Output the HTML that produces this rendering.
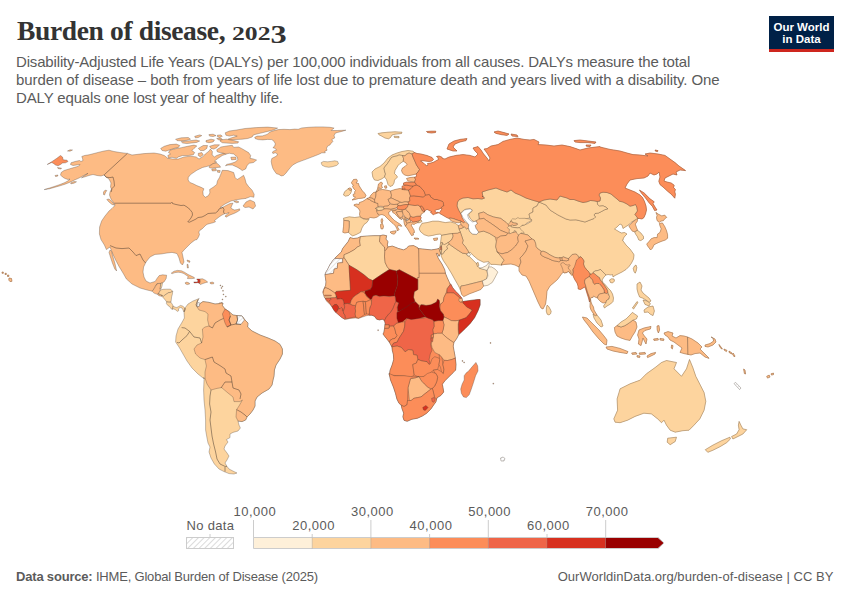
<!DOCTYPE html>
<html><head><meta charset="utf-8"><title>Burden of disease, 2023</title>
<style>
html,body{margin:0;padding:0;background:#fff;}
body{width:850px;height:600px;position:relative;overflow:hidden;font-family:"Liberation Sans",sans-serif;}
.t{position:absolute;white-space:nowrap;line-height:1;}
#title{left:17px;top:17.4px;font-family:"Liberation Serif",serif;font-weight:bold;font-size:27.5px;color:#333;letter-spacing:-0.36px;}
#yr{left:232px;top:23.9px;font-family:"Liberation Serif",serif;font-weight:bold;font-size:19.4px;color:#333;transform:scaleX(1.325);transform-origin:0 0;}
.sub{left:16px;font-size:15px;color:#5b5b5b;}
#logo{position:absolute;left:769px;top:16px;width:65px;height:33px;background:#002147;border-bottom:3px solid #ce261e;color:#fff;font-weight:bold;font-size:11.5px;text-align:center;line-height:12px;}
#logo span{display:block;}
#map{position:absolute;left:0;top:0;width:850px;height:600px;}
.lg{font-size:12.5px;color:#5b5b5b;}
.ft{font-size:13px;color:#5b5b5b;top:570px;}
</style></head><body>
<div id="title" class="t">Burden of disease,</div>
<div id="yr" class="t">202<span style="position:relative;top:3.5px;font-size:1.26em;line-height:0">3</span></div>
<div class="t sub" style="top:54px;letter-spacing:-0.16px">Disability-Adjusted Life Years (DALYs) per 100,000 individuals from all causes. DALYs measure the total</div>
<div class="t sub" style="top:72px;letter-spacing:-0.09px">burden of disease – both from years of life lost due to premature death and years lived with a disability. One</div>
<div class="t sub" style="top:90px;letter-spacing:-0.145px">DALY equals one lost year of healthy life.</div>
<div id="logo"><span style="padding-top:5px">Our World</span><span>in Data</span></div>
<svg id="map" viewBox="0 0 850 600">
<defs>
<pattern id="hatch" width="4" height="4" patternUnits="userSpaceOnUse" patternTransform="rotate(45)"><rect width="4" height="4" fill="#fff"/><line x1="0" y1="0" x2="0" y2="4" stroke="#ccc" stroke-width="1.4"/></pattern>
<pattern id="hatch2" width="3" height="3" patternUnits="userSpaceOnUse" patternTransform="rotate(45)"><rect width="3" height="3" fill="#fff"/><line x1="0" y1="0" x2="0" y2="3" stroke="#d8d8d8" stroke-width="1.2"/></pattern>
</defs>
<g id="countries" stroke="#46392f" stroke-width="0.32" stroke-linejoin="round">
<!--MAP-->
<path d="M127.4 153.4L120 152.5L114 151.5L109 150.2L104 151L99 152.2L94 153.5L89 154.8L84.5 155.5L81.8 156.5L82.5 158.5L83 160.5L81 161.5L79.5 160.5L75 161.5L71 162.8L70.5 164.5L73 165.5L76.5 165L80 164.5L78.5 166.2L74 167.5L69 169L64 170.5L61.2 172.5L60.5 175L62.5 177L65 178.5L68 179.5L70 179L68.5 180.5L65 182.5L60 184.5L55 186.2L49.5 188L44.2 189.6L49.5 188.8L55 187.2L60 185.8L65 184.2L70 182.2L74 180.2L78 178.5L81 177L84 175.3L88 173.3L84 176L81.5 177.8L85 176.8L89 175.5L93 174.5L97 175.5L101 176L104 175L106 177L109 179L111 183L110.5 187L111.5 189L110 192L109.5 195L110.5 198L112 200.5L114 203L115 205L114.4 206L112 208.4L109 211L105 216L101.6 221L99.6 227L99.4 234L101 239.6L104.4 245L106.4 249.6L110 247L112.4 253L115.6 260L119 266.4L123 273L126.4 279L132 284L140 288L147 290L152.2 291.2L154.8 287.8L155.8 285.2L156.8 285L157.2 283.6L160.8 283.4L162.4 282.8L164 282L166.2 278.4L166.6 275.2L162.6 274.8L159.2 275.6L157 278.4L155.2 281.4L150 283L146 281L144 277L143 272L143.6 267L146 262L150 257L155 254.4L161 254L167 253L172 252.4L177 253.6L179 258L180.4 263L182.4 265L184 262L183 257L182 252.4L184 250L187 247L191 243L195 240L197 239.5L198.5 237L199.5 234.5L198.8 232L200 230.2L202 229L204 227L206 225L207.5 224.2L210 223.5L213 222.8L215.5 221.8L214.5 220.5L216.5 219L219 217L222 215L224.5 213.8L226.5 213.5L229 212.5L227.2 214.5L225 216L226 217.2L230 215L234 213.5L237 212L239.8 210.2L239.5 208.8L237.5 209.5L234.5 210L232 209L231 207.5L232 205L233 203.2L230 203.5L226 205.5L221 208.2L220 207.5L225 204L231 201L238 199.5L245 198.5L245 198.7L250.7 196.6L253.8 197.3L254.2 194.4L252.1 190.2L248.6 186.6L246.1 183.1L245 178.8L243.6 175.3L240.1 177.7L237.2 179.5L235.1 177.4L233.7 172.5L228 170.6L222.3 170.3L220.9 173.9L219.5 177.4L217.4 181L216.7 184.5L213.1 187.3L209.6 189.5L209.9 193L208.2 195.8L205.3 197.3L203.2 195.1L202.9 191.6L203.9 188.8L201.1 187.3L196.8 185.6L193.3 183.8L189.8 182.4L188.1 180L188.3 177.4L190.5 174.6L196.8 170.3L202.5 167.5L208.2 166.1L213.1 164L216.7 162.1L214.5 161.1L218.1 158.3L222.3 155.5L226.3 154L224.5 153.1L220.9 154L216.7 155.5L214.5 156.9L212.1 155L212.4 151.6L210.4 149.1L208.9 151.2L205.3 154L202.5 156.9L199 159L196.1 156.9L190.5 156.2L184.1 156.9L178.4 159L172.8 159L167.8 158.3L164.3 155.5L160 154L154 153L144 153.6L132 155Z" fill="#fdbb84"/>
<path d="M185 308L188 304L193 301L198 299L199.2 298.4L197 302L196 305L197.6 307L199.2 305.6L200 303.6L203 301.6L209 302.4L215 304L220 303.6L223 303L222.4 305.6L225 309L229 311.6L233 315L237 315.6L242 316L245 320L248 323L247.6 327L252 331L260 335L268 338L275 341L280 344.4L282.4 349L282.4 354L280 359L276 365L274.4 370L274 376L273 380L273 380L272 385L269 389L262 393L257 397L255 401L255 406L253 410L250 414L247 417L245.6 420L242 421.6L238 421L239 425L240.4 428L238 431L233 432.4L230 434L230 437.6L226.4 439.6L228 442L225 446L224 449L227 453L229 456L227 460L225 463L227 466.4L229 469L234 471.6L237 473L234 474L229 473.6L224 471.6L219 469L214.4 464L211 458L209 452L210 447L208 443L207 438L205.6 430L205.6 420L205 410L204 400L203.6 390L204 380L204.4 378L203 378L198 374L192 368L187 361L183 354L179 347L175.6 342L176 336L178 329L181.6 323L184.4 318L184 312Z" fill="#fdd49e"/>
<path d="M361.1 236.4L357.5 238.1L353.3 238.5L350 237.6L348.3 241.4L345.5 244.9L342.7 248.5L341.3 252L338.4 254.8L335.6 257.4L332.8 260.5L329.9 264.8L327.8 269L325.7 272.5L325 274.7L325.4 277.5L326 281.8L325.7 285.3L324 288.8L322.6 292.1L324 295.2L325 298L326.4 300.9L328.5 303L330.6 305.1L332.8 308L334.9 311.5L337.7 313.6L341.3 317.2L344.8 319.3L345.5 319.5L349.8 318.5L355.4 318L358.3 318.5L362.5 317L366.8 315.6L368.9 315.2L371.7 315.2L374.5 316.3L376.7 319.2L379.5 319.9L382.3 319.2L384.5 320.6L385.2 323.4L384.9 325.5L384.6 328.4L383.8 332.6L383 334L385.2 336.9L388 340.4L390.1 343.5L391.6 346.4L392.3 350.3L393.4 354.6L393.7 359.5L392.3 364.5L390.1 370.2L389.4 375.1L389.1 373.5L390.5 379.9L393.4 387L395.5 393.4L396.9 399L399 403.3L401.2 405.1L401.9 408.3L403.7 413.2L402.9 416.8L404 420.3L407.1 421.3L411.8 419.3L417.5 418.2L422.4 416L426.7 413.2L430.9 409L433.8 404.7L435.9 401.9L436.6 399L437.3 397.6L440.8 395.5L443.7 392L443 387.7L442.3 384.2L445.1 380.6L448.6 377.1L452.2 373.5L455 370L455.6 370.2L456 364.5L455.3 358.1L454.6 353.9L453.9 350.3L453.2 346.1L453.9 342.5L456.8 338.3L458.6 334.8L461 332.6L465.3 328.4L470.2 323.4L474.5 317.8L478 310.7L480.1 305L480.1 299.5L478 299.5L472.3 300.2L466.7 300.9L462.7 301.6L461.9 298.2L458.9 294.5L455.3 291L452.5 287.4L451.1 284.6L449.4 282.5L447.1 277.5L445.4 273.3L444.7 269.7L441.9 264L438.3 258.4L436.2 253.4L437.6 253.4L439 256.3L440.5 253.4L439 248.5L436.2 249.2L431.3 249.9L424.2 249.2L417.8 248.5L417.8 247.8L413.5 245.6L408.6 246.1L406.4 248.5L403.6 249.9L398.6 248.5L392.3 246.1L388 247L387.3 244.9L388 241.4L385.9 239.3L386.6 235.7L383 235L380.2 235.7L373.8 235.7L366.8 236.1Z" fill="#fc8d59"/>
<path d="M343.5 195L344.5 192L346.5 190L348.5 188.5L351 188.5L351.5 191L350.5 193.5L348.5 195.5L345.5 196.2Z" fill="#fdd49e" stroke="#fdd49e" stroke-width="0.5"/>
<path d="M348.5 188.5L350 187.8L351.5 189L351 190.5L349 190Z" fill="#fdbb84" stroke="#fdbb84" stroke-width="0.5"/>
<path d="M351.5 182.5L353.5 179.5L356.5 179.2L357.5 181L356 183L358.5 183.5L359 185.5L360.5 188L362.5 191L364.5 193L366 195.5L365 197.5L362 198.2L358.5 198.5L355 199.5L352 200L354 198.5L355.5 197.2L353.5 196.5L353 194.5L355 193.5L354.5 192L355.5 190.5L354 189L352.5 186.5L353.5 185L352 184Z" fill="#fdbb84" stroke="#fdbb84" stroke-width="0.5"/>
<path d="M354 204.8L356.5 204L359 204.5L359.5 202.5L362.5 201.5L365 200L367 198.5L369.5 199.5L372 201.2L375 202.5L378 203.5L378.2 206.5L376.8 207.5L375.5 208.2L376.5 209.5L377.8 211.5L377.5 213.5L379 215.5L377.5 217L374 218L370.5 217.5L368.5 218.5L366 219L363.5 218.5L360.5 217.5L359.5 214.5L360 211L358.5 208.5L356 206.5L354 205.5Z" fill="#fdbb84" stroke="#fdbb84" stroke-width="0.5"/>
<path d="M343.5 218.2L349.2 216.8L354.8 217.5L359.8 216.8L363.3 218.9L366.9 219.6L369 219.3L366.9 222.4L364 224.5L361.9 228.1L360.5 232.3L356.3 234.5L352.7 235.9L350.6 234.5L349.2 233L348.5 232.3L349.2 226.7L349.2 221L343.8 220.3Z" fill="#fdd49e" stroke="#fdd49e" stroke-width="0.5"/>
<path d="M343.8 220.3L349.2 221L349.2 226.7L348.5 232.3L344.9 233L342.8 232.3L343.5 226.7Z" fill="#fdbb84" stroke="#fdbb84" stroke-width="0.5"/>
<path d="M381 219.5L382.2 218.5L382.8 220.5L382.2 223L381.2 222.5Z" fill="#fdbb84" stroke="#fdbb84" stroke-width="0.5"/>
<path d="M380.8 224L382.5 223.5L383.5 226.5L382.8 229L381 228.8L380.5 226Z" fill="#fdbb84" stroke="#fdbb84" stroke-width="0.5"/>
<path d="M367 198.5L369.5 197.5L372.5 198L374.5 200L375 202.5L372 201.2L369.5 199.5Z" fill="#fdbb84" stroke="#fdbb84" stroke-width="0.5"/>
<path d="M371 195L373.5 192.5L376 192L376 195L375.5 197.5L374.5 200L372.5 198L369.5 197.5Z" fill="#fdbb84" stroke="#fdbb84" stroke-width="0.5"/>
<path d="M376 192L379 190L382.5 189.5L386 190L390.5 191L391.5 195L391 198L388 199.5L389 201.5L390 204L388 206L384 206.5L380.5 206.2L378 206.5L378 203.5L375 202.5L374.5 200L375.5 197.5L376 195Z" fill="#fdbb84" stroke="#fdbb84" stroke-width="0.5"/>
<path d="M378.5 184L381 182L382.5 183L381.5 186L382.5 187.5L380.5 189L379 187.5L379 190L376 192L377.5 189Z" fill="#fdbb84" stroke="#fdbb84" stroke-width="0.5"/>
<path d="M384.5 186L386.5 185.8L386.8 188L385 188.2Z" fill="#fdbb84" stroke="#fdbb84" stroke-width="0.5"/>
<path d="M375.5 208.5L377 207.5L380.5 207L383.5 207.5L384 209L382 210L379 210.5L376.5 210.5L377.5 209Z" fill="#fdd49e" stroke="#fdd49e" stroke-width="0.5"/>
<path d="M384 206.2L388 206L390 204L391.5 204L394 204.5L397.5 204L398 205.5L397 207.5L394 208.5L390 209.2L386.5 208.8L384 209L383.5 207.5Z" fill="#fdbb84" stroke="#fdbb84" stroke-width="0.5"/>
<path d="M376.5 211L379 210.5L382 210L384 209L386.5 208.8L390 209.2L391.5 210L390 211.5L388.5 212.5L389 214.5L391.5 217.5L394.5 220.5L397.5 222.5L400.5 224.5L401.8 226.2L400 226L398.5 225L397.5 227L399 229.5L397.5 231L396.8 228.5L395.5 226L393 223.5L390 221L387 218L384.5 215.5L382 214.5L379.5 215L378 214L377 212.5Z" fill="#fdbb84" stroke="#fdbb84" stroke-width="0.5"/>
<path d="M390 232L393 231.2L396.2 230.8L395.5 233L394 234.2L391.5 233.5Z" fill="#fdbb84" stroke="#fdbb84" stroke-width="0.5"/>
<path d="M390.5 191L395 189.5L400 188.5L403.5 189.5L408.5 190L409.5 193L410.5 196L409.5 198L410 201L408 202L405 201.8L402 202.5L399 201.5L395.5 200L392.5 198.5L391 198L391.5 195Z" fill="#fdbb84" stroke="#fdbb84" stroke-width="0.5"/>
<path d="M388 199.5L391 198L392.5 198.5L395.5 200L399 201.5L400 202.5L397.5 204L394 204.5L391.5 204L389.5 202.5Z" fill="#fdbb84" stroke="#fdbb84" stroke-width="0.5"/>
<path d="M397.5 204L400 202.5L402 202.5L405 201.8L408 202L408.5 203.5L408.5 204.5L406 204.5L403 205L400 205.8L398 205.5Z" fill="#fdbb84" stroke="#fdbb84" stroke-width="0.5"/>
<path d="M397 207.5L398 205.5L400 205.8L403 205L406 204.5L408.5 204.5L407.5 207L405.5 209.2L402 210L399 210L397.5 209.2Z" fill="#fc8d59" stroke="#fc8d59" stroke-width="0.5"/>
<path d="M391.5 209.5L394 208.8L396.5 209L395.5 210.5L392.5 211Z" fill="#fdbb84" stroke="#fdbb84" stroke-width="0.5"/>
<path d="M392.5 211L395.5 210.5L397.5 209.2L402 210L402.5 211.8L399 211.5L396.2 212.2L397.8 215L400 217.8L402 219.5L399.5 218.5L396.5 215.5L394.5 213.5L392.8 212.5Z" fill="#fdbb84" stroke="#fdbb84" stroke-width="0.5"/>
<path d="M396.2 212.2L399 211.5L402.5 211.8L403.2 214.5L402 217.2L400 217.8L397.8 215Z" fill="#fdbb84" stroke="#fdbb84" stroke-width="0.5"/>
<path d="M402.2 210.2L405.5 209.2L407.5 211L409.5 213.5L410.5 216.2L410 217.5L409.5 219.2L407.2 218.5L405.5 217.7L404.5 216L403.2 214.5L402.5 211.8Z" fill="#fdbb84" stroke="#fdbb84" stroke-width="0.5"/>
<path d="M402 217.2L403.5 216L405 217.2L404 219.2L402.5 219Z" fill="#fdbb84" stroke="#fdbb84" stroke-width="0.5"/>
<path d="M405.5 217.7L407.2 218.5L406.5 220.2L405 219.5Z" fill="#fdbb84" stroke="#fdbb84" stroke-width="0.5"/>
<path d="M403.8 219.5L405.2 219.8L406.2 222L407.2 223.2L405.5 226.2L404.5 224.5L404 222Z" fill="#fdbb84" stroke="#fdbb84" stroke-width="0.5"/>
<path d="M406.5 220.2L409.5 219.2L411 220.5L410 222.5L407.2 223.2L406.2 222Z" fill="#fdbb84" stroke="#fdbb84" stroke-width="0.5"/>
<path d="M405.5 226.2L407.2 223.2L410 222.5L413 222L416.5 221.5L418 222.5L415.5 223.5L414 224.5L412.5 224L411 225L412.5 227.5L414 230L414.5 232.5L413 233L413.5 235L411.5 235.5L410 233L408.5 230.5L407 228Z" fill="#fdbb84" stroke="#fdbb84" stroke-width="0.5"/>
<path d="M414 238L418 238.2L419 239L415 239.2Z" fill="#fdbb84" stroke="#fdbb84" stroke-width="0.5"/>
<path d="M410.5 216.2L413 217.2L417 216.2L420 216L421.2 217.5L420.5 219.5L419 221L416.5 221.5L413 222L411 220.5L409.5 219.2L410 217.5Z" fill="#fc8d59" stroke="#fc8d59" stroke-width="0.5"/>
<path d="M407.5 207L408.5 204.5L412 205L415 205.5L418 205L420 206.5L421.5 209L422.5 211L424.5 211.8L423 213L421.2 214L421 215.8L420 216L417 216.2L413 217.2L410.5 216.2L409.5 213.5L407.5 211L405.5 209.2Z" fill="#fdbb84" stroke="#fdbb84" stroke-width="0.5"/>
<path d="M420 206.5L421.5 205.8L423.5 208L424.5 210.5L424.5 211.8L422.5 211L421.5 209Z" fill="#fc8d59" stroke="#fc8d59" stroke-width="0.5"/>
<path d="M409.5 198L410.5 196L414 195.8L419 196.5L423.5 197L425.5 195L429 194.5L430.1 195L430.6 196.9L432.7 198.3L434.6 199.5L437.2 199.5L439.8 200.4L442.1 201.1L443.3 202.3L443.5 204.2L444 205.6L442.4 206.5L441.2 207.7L441.4 208.2L439.8 208.9L437.9 209.4L436 209.8L434.8 210.8L435.5 211.9L436.7 212.5L438.1 212.2L438.8 212.9L437.6 213.1L436.2 213.6L434.6 214.1L433.4 214.7L432.3 214.1L431.8 213.1L430.6 212.6L431.5 211.5L430.1 211L428.5 210.1L427.1 209.4L425.6 210.1L424.5 211.7L424.5 210.5L423.5 208L421.5 205.8L420 206.5L418 205L415 205.5L412 205L408.5 204.5L408.5 203.5L408 202L410 201Z" fill="#fc8d59" stroke="#fc8d59" stroke-width="0.5"/>
<path d="M409.5 193L408.5 190L411 188.5L413 186L416.5 185L420 186.5L422 189L424 191L425.5 195L423.5 197L419 196.5L414 195.8L410.5 196Z" fill="#fc8d59" stroke="#fc8d59" stroke-width="0.5"/>
<path d="M402 186.2L406.5 185L410 185.8L413 186L411 188.5L408.5 190L405 189.7L402.2 189.5Z" fill="#fc8d59" stroke="#fc8d59" stroke-width="0.5"/>
<path d="M403.5 183L407 182L410 182.5L414 182L416 184L416.5 185L413 186L410 185.8L406.5 185L403.5 185Z" fill="#fc8d59" stroke="#fc8d59" stroke-width="0.5"/>
<path d="M406.5 178.5L410 177.5L414.5 177.2L415.5 179.5L414.5 182L411 181.5L408 181Z" fill="#fdbb84" stroke="#fdbb84" stroke-width="0.5"/>
<path d="M372 172L375 169L380 166.5L384 163L388 158L392 155L397 153L402 151.5L408 150.5L413 151.2L414.5 152.5L412 154L410.5 153.5L409 153L406 154.5L405 156L402.5 155.5L399 155L397 156L394 156.5L391.5 157.5L389.5 160.5L387.5 163.5L385.5 166L384 168L384.5 171L385.5 174L384.5 177L381.5 179L378 180.5L374.5 180L372.8 177Z" fill="#fdd49e" stroke="#fdd49e" stroke-width="0.5"/>
<path d="M385.5 166L387.5 163.5L389.5 160.5L391.5 157.5L394 156.5L397 156L399 155L402.5 155.5L403.5 158.5L403 161.5L400 163.5L398 165.5L396.5 168L395 170.5L394.5 173.5L396.5 175.5L397.5 177L394.5 180L394 183L392.5 185.5L390 186.5L388 184.5L386.5 179.5L384.5 177L385.5 174L384.5 171L384 168Z" fill="#fdd49e" stroke="#fdd49e" stroke-width="0.5"/>
<path d="M402.5 155.5L405 156L406 154.5L409 153L410.5 153.5L412 154L413 157L415 161.5L416.5 165L419.5 169.5L418 172L416 174L412 175L408 175.8L404.5 175L402.5 173L401.5 170.5L402.5 168L405 166.5L407 164.5L405.5 162.5L403.5 161.5L403.5 158.5Z" fill="#fdbb84" stroke="#fdbb84" stroke-width="0.5"/>
<path d="M378 133.5L382 132.8L388 132.2L395 131.8L402 132.2L401.5 133.5L395 134.2L392 135L390.5 137.5L388.5 138.8L385 138L381.5 136L379 134.8Z" fill="#fdd49e" stroke="#fdd49e" stroke-width="0.5"/>
<path d="M394 136.2L399 136.5L399 137.8L394.5 137.5Z" fill="#fdd49e" stroke="#fdd49e" stroke-width="0.5"/>
<path d="M418.5 221.2L421.2 220L422 221.5L420 222.5L418.5 223Z" fill="#fdd49e" stroke="#fdd49e" stroke-width="0.5"/>
<path d="M414.5 152.5L417 153.5L421 154L427 155.5L432 157.5L433.5 159.5L432 161L429 161.5L425 161L422 160.5L420.5 161L423 162.5L425 164.5L427 166L428 165L427.5 163.5L431 163L434 162L436.5 160.5L438.5 159.5L438 157.5L436.5 156.5L439 156L442 157.2L442.5 158.5L445 159L448 157.5L450 156.8L456 155.4L463 154.6L470 155.4L475 157L478 154L475 151L473 148L478 146.6L481 150L483.6 154L487 158L489 161L490 158L487 153L484 149L487 148.6L491 146L498 144.6L503 141.4L510 139.4L517 138L524 139.4L530 140L534 139.4L539 142L538 144.6L546 145L554 146L562 145L570 146.6L576 148.6L580 150L588 148L596 147L600 146.6L600 147L610 149.4L620 151L627 153L633 154.6L640 155L648 156L645 154L650 153L658 154L665 155.4L670 159L675 162.6L679 166L685.6 170.6L680 170L676 172L677 175L673 174L669 176L665 178L664 181L667 182L671.2 183L674.2 185.2L673.6 187.6L675.4 189.4L674.8 191.8L675.4 194.2L674.8 198.2L671.2 194.2L667.6 191.2L663 187L660 184.6L658.8 181.2L660 177L659 172L657 174L654 175L650 173L648 176L644 178L637 178.6L630 180L627 184L625 188L630 190L635 192L640 195L642.5 197.5L644.5 201.5L646 206L646.5 210L645.5 214L644 217.5L642 219L639.5 218.5L638 218.5L636.5 216.5L635 214.5L636 213L637.5 211L636.8 207L635.5 204.5L633 205.5L630 206.2L627 204L623 202L619.5 201.2L617 199L614 196.5L611 194L607 192.5L603 192.2L600 193L599 195L600.5 198L600 201L597.2 201.5L594 200.8L590.5 200.5L587 201.8L583 202.5L578 201L574 199.5L570 199.5L567 198L560 196L557 200L550 199L544 200L539 202L532 200L526 198L520 195L515 193L511 190L507 192L501 190L496 188L488 190L482 192L483 197L482 196L484.5 198L482 199L478 198.5L473 198.8L468 197.5L463 198L459.5 199.5L457.5 202L457 206L458.5 210L460.8 213.8L462 217.5L463.2 219.5L464.5 221.5L463.5 222.8L461 221.2L457 220L453 218.5L449.5 218L449.2 218.5L446.8 217.6L444.5 216.2L442.1 214.8L439.8 213.6L439.3 212.6L440.2 211.7L440.9 210.5L441.6 209.4L442.1 208.4L441.4 208.2L441.2 207.7L442.4 206.5L444 205.6L443.5 204.2L443.3 202.3L442.1 201.1L439.8 200.4L437.2 199.5L434.6 199.5L432.7 198.3L430.6 196.9L430.1 195L429 194.5L425.5 195L424 191L422 189L420 186.5L416.5 185L416 184L414.5 182L415.5 179.5L414.5 177.2L416.2 176.8L416.5 175.5L416 174L418 172L419.5 169.5L416.5 165L415 161.5L413 157L412 154Z" fill="#fc8d59" stroke="#fc8d59" stroke-width="0.5"/>
<path d="M402.2 188.5L405 188L405 189.7L402.2 189.5Z" fill="#fc8d59" stroke="#fc8d59" stroke-width="0.5"/>
<path d="M447 149L449 144L454 141L460 139.4L467 138.6L466 140.6L460 142L455 144L453 147L457 151L453 151L450 150Z" fill="#fc8d59" stroke="#fc8d59" stroke-width="0.5"/>
<path d="M494 132L498 131L504 132.6L509 134L507 135.4L501 134.6L496 133.4Z" fill="#fc8d59" stroke="#fc8d59" stroke-width="0.5"/>
<path d="M511 134L517 135L518 136.6L512 136Z" fill="#fc8d59" stroke="#fc8d59" stroke-width="0.5"/>
<path d="M574 140.6L580 140L588 141L596 142L595 143.4L588 142.6L580 142.6L575 142Z" fill="#fc8d59" stroke="#fc8d59" stroke-width="0.5"/>
<path d="M586 145L591 145L590 146.6L586.4 146.2Z" fill="#fc8d59" stroke="#fc8d59" stroke-width="0.5"/>
<path d="M426.5 131.5L431 131.2L435.8 131.2L435.5 132.5L431.5 133L427.5 132.5Z" fill="#fc8d59" stroke="#fc8d59" stroke-width="0.5"/>
<path d="M639.4 190L644.2 193L650 198.8L654.2 201.8L653 203.6L655.4 207.6L657 210L654.6 210.6L652.4 206.4L648.8 202.4L645.2 197.6L641.8 193.6Z" fill="#fc8d59" stroke="#fc8d59" stroke-width="0.5"/>
<path d="M655 150L658 150.6L657.6 151.6L655.6 151.2Z" fill="#fc8d59" stroke="#fc8d59" stroke-width="0.5"/>
<path d="M547.2 305.1L548.7 306.6L550.1 308.9L551.1 311.2L550.7 313.6L549 315L547.2 314.2L546.3 311.2L546.4 307.7Z" fill="#fdd49e" stroke="#fdd49e" stroke-width="0.5"/>
<path d="M461 286L465.3 285.3L470.9 283.9L476.6 282.5L482.3 281L483.7 286L480.8 289.5L475.2 291.7L469.5 293.8L463.8 296.6L461.7 294.5L460.3 289.5Z" fill="#fdbb84" stroke="#fdbb84" stroke-width="0.5"/>
<path d="M593 314L597 315L601 320L603 326L601 327L597 323L594 318Z" fill="#fdd49e" stroke="#fdd49e" stroke-width="0.5"/>
<path d="M582.4 317L587 318L593 324L599 330L604 336L607 340L606.4 345L604 344L599 339L593 332L588 325L584 320Z" fill="#fdbb84" stroke="#fdbb84" stroke-width="0.5"/>
<path d="M606 347L612 346.4L620 348.4L628 351.6L627 353.6L620 352.4L613 351L607 349Z" fill="#fdbb84" stroke="#fdbb84" stroke-width="0.5"/>
<path d="M631.6 353L636 352.4L637 354L632.4 354.4Z" fill="#fdbb84" stroke="#fdbb84" stroke-width="0.5"/>
<path d="M639 353L645 352.4L645.6 354L639.6 354.4Z" fill="#fdbb84" stroke="#fdbb84" stroke-width="0.5"/>
<path d="M637 355.6L640 356L639.6 357.6L637 357Z" fill="#fdbb84" stroke="#fdbb84" stroke-width="0.5"/>
<path d="M647 356L651 353.6L655.6 352.4L655 354L651 356L647.6 357.6Z" fill="#fdbb84" stroke="#fdbb84" stroke-width="0.5"/>
<path d="M653.6 339L658 338.4L658.4 340L654 340.4Z" fill="#fdbb84" stroke="#fdbb84" stroke-width="0.5"/>
<path d="M660 338.4L664 339L663.6 340.6L660 340Z" fill="#fdbb84" stroke="#fdbb84" stroke-width="0.5"/>
<path d="M657 326L659 325.6L659.6 330L658.4 333L657.2 330Z" fill="#fdbb84" stroke="#fdbb84" stroke-width="0.5"/>
<path d="M671.6 345L673 345.6L672.4 349L671.2 348Z" fill="#fdbb84" stroke="#fdbb84" stroke-width="0.5"/>
<path d="M664 333L668 331.6L673 333L672 336L676 338L680 335.6L684 336L687.6 337L688 354.4L684 353.6L680 352.4L682 348L678 345L674 342L670 340L668 337L665 335Z" fill="#fdbb84" stroke="#fdbb84" stroke-width="0.5"/>
<path d="M687.6 337L692 339L698 343L702 347L700 349L704 353L708 357L709 358.4L705 357L700 353L695 353.6L691 355L688 354.4Z" fill="#fdbb84" stroke="#fdbb84" stroke-width="0.5"/>
<path d="M705 345L710 343.6L713.6 341L713 338L711 337L715 339L716 342L713 345L708 347L705 346.4Z" fill="#fdbb84" stroke="#fdbb84" stroke-width="0.5"/>
<path d="M719 344.4L721 347L722.4 349L721 348.6L719.4 346Z" fill="#fdbb84" stroke="#fdbb84" stroke-width="0.5"/>
<path d="M724 349L727 350.4L726.4 351.6L724 350Z" fill="#fdbb84" stroke="#fdbb84" stroke-width="0.5"/>
<path d="M729 351L732 353L731.6 354L729 352.4Z" fill="#fdbb84" stroke="#fdbb84" stroke-width="0.5"/>
<path d="M733 353L735 356L734.4 357L732.6 354.4Z" fill="#fdbb84" stroke="#fdbb84" stroke-width="0.5"/>
<path d="M743.6 369L745 370L745.6 374L744.4 373.6Z" fill="#fdbb84" stroke="#fdbb84" stroke-width="0.5"/>
<path d="M613.8 418.9L617.6 410.2L617.1 398.9L620.1 388.8L630.1 383.8L640.2 380.1L646.4 373.8L655.2 367.5L661.5 362.5L666.5 360.5L676.5 362.5L674 368.8L681.5 376.3L686.5 368.8L689.5 359.5L692.8 367.5L695.8 376.3L700.3 385.1L704.1 392.6L705.8 401.4L704.1 410.2L699.8 418.9L694 425.2L689 430.2L682.8 430.7L675.2 432.2L670.2 430.2L666.5 425.2L664 420.2L661.5 422.7L657.7 418.9L651.4 413.9L643.9 413.2L635.1 416.4L627.6 420.2L620.1 422.7L615.1 422.2Z" fill="#fdd49e" stroke="#fdd49e" stroke-width="0.5"/>
<path d="M667.7 438.2L676.5 437.2L675.2 441.5L670.2 444.7L667.2 442.2Z" fill="#fdd49e" stroke="#fdd49e" stroke-width="0.5"/>
<path d="M739.1 421.4L740.9 425.2L742.9 428.9L746.7 429.7L742.9 434L737.9 436.5L732.9 439L731.6 436.5L736.6 434L739.1 429.7L738.4 425.2Z" fill="#fdd49e" stroke="#fdd49e" stroke-width="0.5"/>
<path d="M705.3 449.7L712.8 445.2L721.6 440.7L729.9 437.2L730.4 439L726.6 442.7L720.4 446.5L712.8 450.3L707.8 452.3Z" fill="#fdd49e" stroke="#fdd49e" stroke-width="0.5"/>
<path d="M766.7 376.3L769.2 375.1L770 377.1L767.5 378.1Z" fill="#fdbb84" stroke="#fdbb84" stroke-width="0.5"/>
<path d="M771 373.8L773.5 373.1L773.5 374.6L771.5 375.1Z" fill="#fdbb84" stroke="#fdbb84" stroke-width="0.5"/>
<path d="M2 272L3.3 272L3.3 273.3L2 273.3Z" fill="#fdbb84" stroke="#fdbb84" stroke-width="0.5"/>
<path d="M5 273.3L6.3 273.3L6.3 274.5L5 274.5Z" fill="#fdbb84" stroke="#fdbb84" stroke-width="0.5"/>
<path d="M7.5 275L8.8 275L8.8 276.5L7.5 276.5Z" fill="#fdbb84" stroke="#fdbb84" stroke-width="0.5"/>
<path d="M9 278L11.5 278.5L12 281.3L10 281.6L8.8 280.1Z" fill="#fdbb84" stroke="#fdbb84" stroke-width="0.5"/>
<path d="M614.4 327.6L617 325.6L621 327L625 325.6L629 323L633 320L636 322L637 327L635 332L632.4 336L630 340.4L625.6 339.6L621 338L617 336L615 332Z" fill="#fdbb84" stroke="#fdbb84" stroke-width="0.5"/>
<path d="M617 325.6L621 322L626 319L630 315L632.4 312.4L637.6 316L636.4 319L633 320L629 323L625 325.6L621 327Z" fill="#fdd49e" stroke="#fdd49e" stroke-width="0.5"/>
<path d="M639 330L644 328L651 326.4L650.4 329L645 330.4L642.4 333L644.4 336L647 339L646 344L644.4 341L643 338L642 342L641 345.6L638.4 344L639 339L637.6 335Z" fill="#fdbb84" stroke="#fdbb84" stroke-width="0.5"/>
<path d="M637 284L640 282L642 286L641 290L643 293L646 295.6L649 298L651 301L649 302.4L646 300L642.4 298L639.6 297L638 293L637 289Z" fill="#fdd49e" stroke="#fdd49e" stroke-width="0.5"/>
<path d="M643 300L647 301L650.4 303.6L649 306L645 304.4Z" fill="#fdd49e" stroke="#fdd49e" stroke-width="0.5"/>
<path d="M644 310L648 307L653 306L654.4 311L653 315.6L650 314L648 312L644.4 312.4Z" fill="#fdd49e" stroke="#fdd49e" stroke-width="0.5"/>
<path d="M632.4 308L637 301.6L638 302.4L633.6 309Z" fill="#fdd49e" stroke="#fdd49e" stroke-width="0.5"/>
<path d="M460.8 213.8L458.5 210L457 206L457.5 202L459.5 199.5L463 198L468 197.5L473 198.8L478 198.5L482 199L484.5 198L482 196L483 197L482 192L488 190L496 188L501 190L507 192L511 190L515 193L520 195L526 198L532 200L539 202L537 206L533 208L533 212L529 214L530 218L524 219L518 220.6L514 220L514.1 222.6L509.2 225.5L506.3 222.6L500.7 218.4L493.6 217L487.9 214.8L483.7 212L478.7 213.4L479.1 216.3L479.4 219.4L475.9 221.2L477.8 222.5L476.2 221L475 221.2L474.5 221.8L472 220.5L470 218L468.5 215L469.5 213L471.5 212L472.2 210L470 208.8L466 209L462.5 211Z" fill="#fdd49e" stroke="#fdd49e" stroke-width="0.5"/>
<path d="M478.7 213.4L483.7 212L487.9 214.8L493.6 217L500.7 218.4L506.3 222.6L509.2 225.5L514.1 222.6L517.7 221.2L517 223.3L512.7 225.5L511.3 228.3L512.7 232.5L507.8 233.3L500.7 230.4L495 226.2L490.8 223.3L486.5 220.5L483.7 218.4L479.4 219.1L479.1 216.3Z" fill="#fdbb84" stroke="#fdbb84" stroke-width="0.5"/>
<path d="M475.9 221.2L478.7 219.1L479.4 219.1L483.7 218.4L486.5 220.5L490.8 223.3L495 226.2L500.7 230.4L507.8 233.3L506.3 235.4L500.7 236.1L497.1 238.2L495 236.8L489.3 233.3L483.7 231.1L478.7 232.1L475.9 228.3L475.2 225.5L477.3 223.3Z" fill="#fdbb84" stroke="#fdbb84" stroke-width="0.5"/>
<path d="M497.1 238.2L500.7 236.1L506.3 235.4L507.8 233.3L512.7 232.5L517 231.8L519.4 233L517.7 237.5L518.4 241.8L515.6 246L512 249.5L507.8 252.4L502.1 253.8L499.3 253.1L497.1 251.7L495.7 246.7L496.4 241.8Z" fill="#fdbb84" stroke="#fdbb84" stroke-width="0.5"/>
<path d="M501.4 265.1L502.1 263L504.2 260.2L500.7 255.9L497.1 251.7L499.3 253.1L502.1 253.8L507.8 252.4L512 249.5L515.6 246L518.4 241.8L517.7 237.5L519.4 233L528 235L532 239L529 240L525 241L528 246L526 251L523 255L520 258L521 262L519 267L515 265L511 264L505 264.4L501 265Z" fill="#fdbb84" stroke="#fdbb84" stroke-width="0.5"/>
<path d="M449.5 218L453 218.5L457 220L461 221.2L460.5 222.5L458 222.8L455 222.2L452 221.2L450 219.8Z" fill="#fdbb84" stroke="#fdbb84" stroke-width="0.5"/>
<path d="M458.2 225.5L461 224.5L463.6 226.9L461.7 228.3L458.9 229Z" fill="#fdbb84" stroke="#fdbb84" stroke-width="0.5"/>
<path d="M460.5 222.5L461 221.2L463.5 222.8L465.5 222L468.8 224.8L468.4 227.9L466.7 229L464.5 226.9L463.6 226.9L461 224.5Z" fill="#fdbb84" stroke="#fdbb84" stroke-width="0.5"/>
<path d="M419.9 226.9L422 223.3L427 222.6L432.7 221.2L438.3 221.2L445.4 222.6L450.4 221.9L455.3 223.3L458.2 225.5L458.9 229L460.3 232.1L457.5 233.3L452.5 233.5L446.8 234.4L441.5 235.4L440.5 234L436.9 234.4L432.7 235.4L428.4 236.1L424.2 234.7L420.6 231.8L419.2 229Z" fill="#fdd49e" stroke="#fdd49e" stroke-width="0.5"/>
<path d="M433.4 238.5L437.6 237.9L437.2 240.1L434.1 240.5Z" fill="#fdbb84" stroke="#fdbb84" stroke-width="0.5"/>
<path d="M441.5 235.4L446.8 234.4L452.5 233.5L453.2 236.1L451.8 239.6L448.3 242.5L444.7 244.6L442.3 243.9L442.3 242.5L440.5 243.2L441.2 237.5Z" fill="#fdd49e" stroke="#fdd49e" stroke-width="0.5"/>
<path d="M440.5 243.2L442.3 242.5L442.3 243.9L440.9 246.3L440 246.3Z" fill="#fdd49e" stroke="#fdd49e" stroke-width="0.5"/>
<path d="M452.5 233.5L457.5 233.3L460.3 232.1L461.7 236.1L463.1 240.3L462.4 243.2L465.3 246.7L468.1 251L468.8 252.8L466.7 253.8L462.4 253.1L456.8 249.5L451.8 246L449 243.9L448.3 242.5L451.8 239.6L453.2 236.1Z" fill="#fdbb84" stroke="#fdbb84" stroke-width="0.5"/>
<path d="M442.3 243.9L444.7 244.6L448.3 242.5L449 243.9L446.6 246.7L447.5 248.8L444.7 251L442.9 253.8L441.2 254.2L441.7 249.5L441.5 246Z" fill="#fdd49e" stroke="#fdd49e" stroke-width="0.5"/>
<path d="M440 246.3L440.9 246.3L441.5 246L441.7 249.5L440.9 253.7L439.2 248.8Z" fill="#fdd49e" stroke="#fdd49e" stroke-width="0.5"/>
<path d="M440.3 246.9L441.3 246.6L441.5 249.7L440.5 250Z" fill="#ef6548" stroke="#ef6548" stroke-width="0.5"/>
<path d="M441.2 254.2L442.9 253.8L444.7 251L447.5 248.8L446.6 246.7L449 243.9L451.8 246L456.8 249.5L462.4 253.1L466.7 253.8L467.4 255.6L469.2 256.2L472.3 259.5L475.9 263L476.6 263.3L477.7 266.1L479.4 268L486.5 270.1L487.6 274.3L486.5 278.9L482.3 281L476.6 282.4L470.9 283.8L465.3 285.3L461 286L460.3 289.5L458.2 285.3L455.3 280.3L451.8 273.9L447.5 266.8L443.3 260.5L441.2 256.2Z" fill="#fdd49e" stroke="#fdd49e" stroke-width="0.5"/>
<path d="M466.7 253.8L468.8 252.8L470.6 254.5L469.2 256.2L467.4 255.6Z" fill="#fef0d9" stroke="#fef0d9" stroke-width="0.5"/>
<path d="M458.9 229L461.7 228.3L464.5 226.9L466.7 229L468.4 227.9L469.5 231.1L472.3 234L476.6 234.4L478.7 232.1L483.7 231.1L489.3 233.3L495 236.8L496.4 241.8L495.7 246.7L497.1 251.7L500.7 255.9L504.2 260.2L502.1 263L501.4 265.1L495 264.4L490.8 264.4L488.6 261.6L483.7 262.3L478 259.5L473.8 255.9L470.2 252.4L468.8 252.8L468.1 251L465.3 246.7L462.4 243.2L463.1 240.3L461.7 236.1L460.3 232.1Z" fill="#fdd49e" stroke="#fdd49e" stroke-width="0.5"/>
<path d="M487.2 270.4L488.6 266.9L491.5 266.9L495 269L497.8 272.1L495 277.5L492.2 282.5L487.9 285.3L483.7 286L482.3 281L486.5 278.9L487.9 276.1Z" fill="#fef0d9" stroke="#fef0d9" stroke-width="0.5"/>
<path d="M479.4 268.3L482.3 267.6L486.5 265.5L488.6 262.6L489.3 264.8L488.6 266.9L487.2 270.4Z" fill="#fef0d9" stroke="#fef0d9" stroke-width="0.5"/>
<path d="M476.6 263.3L478 262.3L478.9 265.5L477.4 266.5Z" fill="#fdd49e" stroke="#fdd49e" stroke-width="0.5"/>
<path d="M539 202L544 200L550 199L557 200L560 196L567 198L570 199.5L574 199.5L578 201L583 202.5L587 201.8L590.5 200.5L594 200.8L597.2 201.5L597.5 204.5L599.5 206.2L603 205.8L606 207.2L607.8 208.8L604.5 209.8L601.5 211.5L598.5 213L595 213.5L594 215L595.5 217L594 218.5L590 220L585 222L581 221L576 219.8L570 220L566 219L558 215L550 210L546 205Z" fill="#fdd49e" stroke="#fdd49e" stroke-width="0.5"/>
<path d="M530 218L529 214L533 212L533 208L537 206L539 202L546 205L550 210L558 215L566 219L570 220L576 219.8L581 221L585 222L590 220L594 218.5L595.5 217L594 215L595 213.5L598.5 213L601.5 211.5L604.5 209.8L607.8 208.8L606 207.2L603 205.8L599.5 206.2L597.5 204.5L597.2 201.5L600 201L600.5 198L599 195L600 193L603 192.2L607 192.5L611 194L614 196.5L617 199L619.5 201.2L623 202L627 204L630 206.2L633 205.5L635.5 204.5L636.8 207L637.5 211L636 213L635 214.5L636.5 216.5L638 218.5L636.5 219.5L634 220.5L631 222.5L628.5 225L626 226.5L623 228.5L622 225L620 224L617 227L614.5 229L617 230.5L619.5 232L621.5 233L624.5 232.5L627 234L625 236L623.5 238L623 240L622.4 240L626 245L630 249L633.6 254L634 255L633.5 259L631.5 263L629 266.5L626 269.5L622 272L618 274L615 275.5L613 277L612.5 274.5L611 275L608 274.5L606 275L604.5 273.5L602.5 271.5L600.5 269.5L598 270.5L595 271L593 272.5L591.2 274.5L590 274L588.5 271.5L586.5 269.5L584.5 267L583.5 264L584 261L582.5 258.5L580.8 256.8L580.5 256.9L578.7 257.6L578 255.9L576.9 254.5L575.2 254.1L572.4 254.5L570.2 256.6L568.5 258.7L566 258L563.5 256.9L561.8 257.6L561.1 258L560 257.6L558.2 258L554.7 257.3L550.5 255.2L546.2 252.4L543.1 251.2L541.3 251.3L537.8 248.8L536 246.7L535.6 243.5L534.2 240L532 239L528 235L519.4 233L517 231.8L512.7 232.5L511.3 228.3L521 226L527 224L532 221Z" fill="#fdd49e" stroke="#fdd49e" stroke-width="0.5"/>
<path d="M628.8 225.9L631.8 222.9L635.3 220L637.6 218.2L637.3 221.2L635.3 224.1L636.5 227.6L637.6 230.4L634.7 231.8L632.4 231.2L630.6 228.8Z" fill="#fdbb84" stroke="#fdbb84" stroke-width="0.5"/>
<path d="M634.7 231.8L637.6 230.4L640.8 232.9L643.5 236.5L643.5 238.8L640.8 240.6L638.8 240L637.3 236.5L635.6 234.1Z" fill="#fdd49e" stroke="#fdd49e" stroke-width="0.5"/>
<path d="M655.9 212.4L658.2 214.1L661.8 215.9L664.7 215.1L666.7 217.4L664.7 218.8L663.5 220.6L660.6 221.2L659.4 222.4L657.1 220.6L656.5 217.6L657.1 215.3Z" fill="#fdbb84" stroke="#fdbb84" stroke-width="0.5"/>
<path d="M659.4 223.5L662.4 222.9L664.7 226.5L666.5 230.6L667.6 234.7L667.6 238.2L665.3 240L661.8 241.2L658.8 242.4L656.5 243.5L654.1 244.7L652.4 248.2L650.6 250L647.6 245.9L646.7 244.1L648.8 241.8L651.2 238.8L654.1 237.6L657.1 237.6L657.6 234.1L660 232.4L661.2 228.8L660 225.9Z" fill="#fdbb84" stroke="#fdbb84" stroke-width="0.5"/>
<path d="M511.2 220.2L512.6 218.8L515.5 219.1L517.9 217.6L519.4 218.4L524.6 218.3L528.2 218.8L531.6 219.5L531 220.9L528.2 222.3L526.1 223.5L524.6 225.1L522.2 225.1L520.4 226.9L519.7 227.6L517.6 227.9L514.8 227.6L512.3 227.2L511.2 226.9L510.2 225.8L510.9 225.5L512.3 224.8L513.7 225.5L516.2 225.1L517.6 224.1L516.2 223.2L514.1 223L512.3 222.6L511.6 220.9L510.2 221.9Z" fill="#fdd49e" stroke="#fdd49e" stroke-width="0.5"/>
<path d="M510.2 221.9L511.6 220.9L512.3 222.6L514.1 223L516.2 223.2L517.6 224.1L516.2 225.1L513.7 225.5L512.3 224.8L510.9 225.5L510.2 225.8L508.8 226.2L508.1 224.4L509.1 223.7Z" fill="#fdbb84" stroke="#fdbb84" stroke-width="0.5"/>
<path d="M508.8 226.2L510.2 225.8L511.2 226.9L512.3 227.2L514.8 227.6L517.6 227.9L519.7 227.6L520.8 229.4L522.9 231.5L524.3 232.9L523.2 233.2L521.1 232.9L519.4 234.3L518.3 235L516.9 233.2L515.8 231.1L514.4 230.4L513.7 232.2L511.6 232.9L509.8 233.9L509.1 231.8L509.5 229.4L508.1 228.6L507.4 227.6Z" fill="#fdd49e" stroke="#fdd49e" stroke-width="0.5"/>
<path d="M525 241L529 240L532 239L534.2 240L535.6 243.5L536 246.7L537.8 248.8L541.3 251.3L540.6 253.8L541.3 255.2L544.1 256.9L548.4 258.5L552.6 260.5L556.1 261.2L559.3 261.9L560.4 260.6L561.4 260.5L562.1 260.5L563.9 260.6L566.7 260.8L568.7 260.1L568.5 258.7L570.2 256.6L572.4 254.5L575.2 254.1L576.9 254.5L578 255.9L578.7 257.6L580.5 256.9L579.4 259.1L576.9 260.5L576.2 263.3L575.5 266.5L573.8 268.2L572.7 270L573.1 272.8L572.4 275.3L571.6 275.3L570.6 273.9L569.2 272.1L568.1 271.4L566.7 272.5L564.6 272.8L563.2 272.1L561.1 274.6L559.6 276.7L557.5 279.5L554.7 282L550 286L547 291L546.4 298L545.6 304L543 309L541 308L538 302L535 295L532 288L529 281L526 276L522 275L519 271L519 267L521 262L520 258L523 255L526 251L528 246Z" fill="#fdbb84" stroke="#fdbb84" stroke-width="0.5"/>
<path d="M541.3 251.6L543.1 251.2L546.2 252.4L550.5 255.2L554.7 257.3L558.2 258L560 257.6L560.4 260.5L559.3 261.9L556.1 261.2L552.6 260.5L548.4 258.5L544.1 256.9L541.3 255.2L540.6 253.8Z" fill="#fdbb84" stroke="#fdbb84" stroke-width="0.5"/>
<path d="M561.8 257.6L563.5 256.9L566 258L568.5 258.7L568.7 260.1L566.7 260.8L563.9 260.6L562.1 260.5Z" fill="#fdbb84" stroke="#fdbb84" stroke-width="0.5"/>
<path d="M561.1 263.3L562.8 262.6L563.9 262.9L565.3 264.4L567.4 265.1L569.5 264.7L570.2 265.8L568.1 266.8L568.5 268.9L569.5 269.6L570.6 271.1L571.3 273.2L570.6 273.9L569.2 271.8L568.1 271.4L566.7 272.5L564.6 272.8L563.2 272.1L562.8 269.6L561.8 266.8L560.7 264.7Z" fill="#fdbb84" stroke="#fdbb84" stroke-width="0.5"/>
<path d="M576.5 260L579 258L580.8 256.8L582.5 258.5L584 261L583.5 264L584.5 267L586.5 269.5L588.5 271.5L590 274L591.2 274.5L589.5 276.5L587 278L585 279.5L584.5 282L585.5 285L586.5 288.5L587.5 292L589 296L590.2 300L589.5 302L588.5 298L587.2 294L586 290L584.8 287L583 288L580.5 289.5L578.2 289L578 286L577 283L575 280L573.5 277L572.8 274.5L573.5 271.5L573 269.5L574.5 266.5L575.5 263.5Z" fill="#fc8d59" stroke="#fc8d59" stroke-width="0.5"/>
<path d="M590 274L591.2 274.5L593 272.5L595 274L597 275.8L599.5 277.5L600.5 280L602 282L604 284.5L606 287.5L607.5 290L608 292.5L606.5 293.5L604.5 293L604 290L602.5 287.5L600.5 285L599 283.5L596.5 283.5L594.5 284.5L593 282.5L592.5 280L591 278.5L589.5 276.5Z" fill="#fc8d59" stroke="#fc8d59" stroke-width="0.5"/>
<path d="M585 279.5L587 278L589.5 276.5L591 278.5L592.5 280L593 282.5L594.5 284.5L596.5 283.5L599 283.5L600.5 285L602.5 287.5L604 290L604.5 293L602 293.5L599.5 294L598 296L597.5 298L595 297L593.5 296L592.5 298L591.5 297L590.5 299L591 302L592 304.5L593.5 307L594 310L597 315L595 316L591 310L590 307L590.2 300L589 296L587.5 292L586.5 288.5L585.5 285L584.5 282Z" fill="#fdbb84" stroke="#fdbb84" stroke-width="0.5"/>
<path d="M598 296L599.5 294L602 293.5L604.5 293L606.5 293.5L608.5 294L609.5 296.5L609 299L606.5 300.5L606 302.5L603 303L600.5 301.5L598.5 299.5L597.5 298Z" fill="#fdbb84" stroke="#fdbb84" stroke-width="0.5"/>
<path d="M593 272.5L595 271L598 270.5L600.5 269.5L602.5 271.5L604.5 273.5L606 275L604 277L602 280L603 282.5L605.5 285L608 288L610.5 290.5L612.5 294L613.5 298L613 301.5L610.5 304L607 306L604.5 308L603.5 306L606 302.5L606.5 300.5L609 299L609.5 296.5L608.5 294L608 292.5L607.5 290L606 287.5L604 284.5L602 282L600.5 280L599.5 277.5L597 275.8L595 274Z" fill="#fdd49e" stroke="#fdd49e" stroke-width="0.5"/>
<path d="M609.5 280L611.5 278.8L614 279L614.5 281L612.5 283L610.5 282.5Z" fill="#fdd49e" stroke="#fdd49e" stroke-width="0.5"/>
<path d="M633.2 268.5L634.5 266L636 265L636.8 267.5L636.2 271L635.2 273.2L634 271.5Z" fill="#fdd49e" stroke="#fdd49e" stroke-width="0.5"/>
<path d="M560 257.6L561.1 258L561.8 257.6L562.1 260.5L561.4 260.5L560.4 260.6Z" fill="#fdbb84" stroke="#fdbb84" stroke-width="0.5"/>
<path d="M494.5 236L498 236L498 241L494.5 241Z" fill="#fdbb84" stroke="none"/>
<path d="M460.8 213.8L458.5 210L457 206L457.5 202L459.5 199.5L463 198L468 197.5L473 198.8L478 198.5L482 199L484.5 198L482 196L483 197L482 192L488 190L496 188L501 190L507 192L511 190L515 193L520 195L526 198L532 200L539 202L537 206L533 208L533 212L529 214L530 218L524 219L518 220.6L514 220L514.1 222.6L509.2 225.5L506.3 222.6L500.7 218.4L493.6 217L487.9 214.8L483.7 212L478.7 213.4L479.1 216.3L479.4 219.4L475.9 221.2L477.8 222.5L476.2 221L475 221.2L474.5 221.8L472 220.5L470 218L468.5 215L469.5 213L471.5 212L472.2 210L470 208.8L466 209L462.5 211Z" fill="#fdd49e"/>
<path d="M441.2 254.2L442.9 253.8L444.7 251L447.5 248.8L446.6 246.7L449 243.9L451.8 246L456.8 249.5L462.4 253.1L466.7 253.8L467.4 255.6L469.2 256.2L472.3 259.5L475.9 263L476.6 263.3L477.7 266.1L479.4 268L486.5 270.1L487.6 274.3L486.5 278.9L482.3 281L476.6 282.4L470.9 283.8L465.3 285.3L461 286L460.3 289.5L458.2 285.3L455.3 280.3L451.8 273.9L447.5 266.8L443.3 260.5L441.2 256.2Z" fill="#fdd49e"/>
<path d="M458.9 229L461.7 228.3L464.5 226.9L466.7 229L468.4 227.9L469.5 231.1L472.3 234L476.6 234.4L478.7 232.1L483.7 231.1L489.3 233.3L495 236.8L496.4 241.8L495.7 246.7L497.1 251.7L500.7 255.9L504.2 260.2L502.1 263L501.4 265.1L495 264.4L490.8 264.4L488.6 261.6L483.7 262.3L478 259.5L473.8 255.9L470.2 252.4L468.8 252.8L468.1 251L465.3 246.7L462.4 243.2L463.1 240.3L461.7 236.1L460.3 232.1Z" fill="#fdd49e"/>
<path d="M530 218L529 214L533 212L533 208L537 206L539 202L546 205L550 210L558 215L566 219L570 220L576 219.8L581 221L585 222L590 220L594 218.5L595.5 217L594 215L595 213.5L598.5 213L601.5 211.5L604.5 209.8L607.8 208.8L606 207.2L603 205.8L599.5 206.2L597.5 204.5L597.2 201.5L600 201L600.5 198L599 195L600 193L603 192.2L607 192.5L611 194L614 196.5L617 199L619.5 201.2L623 202L627 204L630 206.2L633 205.5L635.5 204.5L636.8 207L637.5 211L636 213L635 214.5L636.5 216.5L638 218.5L636.5 219.5L634 220.5L631 222.5L628.5 225L626 226.5L623 228.5L622 225L620 224L617 227L614.5 229L617 230.5L619.5 232L621.5 233L624.5 232.5L627 234L625 236L623.5 238L623 240L622.4 240L626 245L630 249L633.6 254L634 255L633.5 259L631.5 263L629 266.5L626 269.5L622 272L618 274L615 275.5L613 277L612.5 274.5L611 275L608 274.5L606 275L604.5 273.5L602.5 271.5L600.5 269.5L598 270.5L595 271L593 272.5L591.2 274.5L590 274L588.5 271.5L586.5 269.5L584.5 267L583.5 264L584 261L582.5 258.5L580.8 256.8L580.5 256.9L578.7 257.6L578 255.9L576.9 254.5L575.2 254.1L572.4 254.5L570.2 256.6L568.5 258.7L566 258L563.5 256.9L561.8 257.6L561.1 258L560 257.6L558.2 258L554.7 257.3L550.5 255.2L546.2 252.4L543.1 251.2L541.3 251.3L537.8 248.8L536 246.7L535.6 243.5L534.2 240L532 239L528 235L519.4 233L517 231.8L512.7 232.5L511.3 228.3L521 226L527 224L532 221Z" fill="#fdd49e"/>
<path d="M539 202L544 200L550 199L557 200L560 196L567 198L570 199.5L574 199.5L578 201L583 202.5L587 201.8L590.5 200.5L594 200.8L597.2 201.5L597.5 204.5L599.5 206.2L603 205.8L606 207.2L607.8 208.8L604.5 209.8L601.5 211.5L598.5 213L595 213.5L594 215L595.5 217L594 218.5L590 220L585 222L581 221L576 219.8L570 220L566 219L558 215L550 210L546 205Z" fill="#fdd49e"/>
<path d="M216.7 149.8L220.9 147L226.6 146L232.3 145.3L233.7 147.4L238.6 147L241.5 148.4L245 150.5L248.6 152.6L250.7 155.5L250 158.3L253.5 159L256.6 160.1L253.5 162.5L249.3 163.3L247.1 165.4L245.7 168.9L242.2 170.6L240.1 168.9L237.2 167.2L232.3 165L228 165.1L225.5 165.8L226.6 164.4L230.8 163.5L235.1 162.1L237.9 159.7L237.2 156.9L233.7 154L229.4 153.3L225.9 154L223.8 153.3L220.2 152.6L217.4 151.9Z" fill="#fdbb84"/>
<path d="M225.2 132.8L229.4 131L236.5 130L245 128.5L256.3 127.6L267.7 127.1L277.6 128.1L273.3 130L267.7 131.4L262 132.8L257.8 133.8L253.5 134.9L252.1 137L247.8 138.5L242.2 139.2L236.5 139.5L230.8 139.9L228 139.2L232.3 137.5L237.2 136.1L233.7 135.2L229.4 136.1L225.9 135.2Z" fill="#fdbb84"/>
<path d="M220.2 139.9L226.6 139.2L233.7 140.6L238.6 141.7L237.9 143.1L232.3 143.4L226.6 143.1L222.3 142.7L220.2 141.3Z" fill="#fdbb84"/>
<path d="M208.9 134.6L213.1 134.2L216 135.6L213.1 136.6L209.6 136.1Z" fill="#fdbb84"/>
<path d="M217.4 135.2L220.9 134.9L222.3 136.3L219.5 137.5L217.4 136.6Z" fill="#fdbb84"/>
<path d="M216.7 138.5L220.9 138L222.3 139.5L218.8 139.9Z" fill="#fdbb84"/>
<path d="M175.6 139.2L181.3 137.8L188.3 137.5L190.5 139.2L186.9 140.3L181.3 140.9L177 140.6Z" fill="#fdbb84"/>
<path d="M194.7 136.3L199.7 134.9L201.8 135.6L198.3 137.5L195.4 137.8Z" fill="#fdbb84"/>
<path d="M206 140.6L211 139.2L214.5 139.9L213.1 142L208.9 142.7L206 142Z" fill="#fdbb84"/>
<path d="M181.3 141.7L188.3 140.9L196.1 140L199.7 141L196.8 142.4L191.9 143L186.9 143.6L182.7 143Z" fill="#fdbb84"/>
<path d="M160.7 148.4L164.3 146.3L169.9 144.6L176.3 144.1L179.8 145.5L178.4 147.4L174.2 148.4L169.9 149.8L165.7 151.2L162.1 150.5Z" fill="#fdbb84"/>
<path d="M168.5 152.6L169.9 150.2L175.6 148.7L181.3 147.7L187.6 146.3L194 145.1L196.8 146L194 148.4L191.9 150.5L194.7 152.6L193.3 154.8L188.3 155.5L182.7 155.5L178.4 156.9L176.3 158.3L172 157.3L168.5 157.9L167.8 155.5L170.6 154Z" fill="#fdbb84"/>
<path d="M198.3 148.4L203.2 145.5L207.5 145.5L206.8 148.4L203.9 150.5L200.4 150.5Z" fill="#fdbb84"/>
<path d="M209.6 146.3L214.5 144.8L219.5 144.8L216.7 147.7L213.8 149.1L211 148.4Z" fill="#fdbb84"/>
<path d="M198.3 153.3L201.8 152.6L203.2 154.8L200.4 156.9L198.3 155.5Z" fill="#fdbb84"/>
<path d="M208.9 166.8L213.1 163.5L216.7 163L219.5 165.4L220.6 167.2L216.7 167.5L212.4 168.2L209.6 167.8Z" fill="#fdbb84"/>
<path d="M211.7 169.2L216 168.6L216.4 170.6L212.4 171Z" fill="#fdbb84"/>
<path d="M217.4 170.3L220.2 170.6L219.8 172.5L217.5 172.2Z" fill="#fdbb84"/>
<path d="M230.8 157.3L235.8 157L236.2 159.4L231.6 159.9Z" fill="#fdbb84"/>
<path d="M254.7 137.3L257.1 136.1L262.4 135.9L267.1 134.4L270 132L273.5 130.8L278.2 129.6L284.1 129.3L290 129.6L294.7 129.1L298.2 129.3L301.8 127.9L308.8 127.3L315.9 126.9L322.9 126.9L330 127.3L334.1 128.1L332.4 129.3L331.2 130.5L337.1 130.5L345.9 130.2L341.8 131.4L337.6 132.4L335.3 133.2L334.1 135.5L334.7 137.9L331.8 139.6L332.9 141.4L331.2 143.2L330 144.9L327.6 146.1L326.5 148.5L327.1 150.2L324.7 151.4L325.3 152.8L321.8 152.8L320 153.8L315.9 155.5L311.2 157.3L306.5 159.1L301.8 160.8L297.1 162.6L292.9 164.9L290.6 167.3L288.2 170.2L285.9 173.2L283.5 175.5L281.2 175.9L278.8 174.4L276.5 173.8L274.7 171.4L272.9 168.5L271.8 164.9L271.2 161.4L271.8 158.5L274.1 157.3L276.5 156.1L277.6 154L275.3 152.8L272.9 153.5L272.4 152L274.1 150.8L276.5 150.2L275.3 148.5L272.9 147.6L274.7 146.1L275.3 143.8L274.1 141.4L271.8 139.6L267.6 139.4L262.9 139.9L258.2 139.6L255.3 138.7Z" fill="#fdbb84"/>
<path d="M321.2 162.6L323.5 161.4L327.6 161.8L331.2 161.4L334.7 160.8L337.6 161.4L338.5 163.8L336.5 165.5L332.4 166.7L328.8 167.3L325.3 166.7L322.4 165.5L321.5 164.1Z" fill="#fdd49e"/>
<path d="M243 206L246 202L250 200L254.4 202L255.6 206L253 209L249 207L245 207.6Z" fill="#fdbb84"/>
<path d="M67.5 151L70 149.8L72.5 150L70 151.2Z" fill="#fdbb84"/>
<path d="M55 175.5L58 175L57.5 176.2L55.5 176.5Z" fill="#fdbb84"/>
<path d="M70.5 183L74 181.5L76.5 181.8L74 183.2L71 183.8Z" fill="#fdbb84"/>
<path d="M57.5 167.5L61.5 168.2L61 169L58 168.5Z" fill="#fdbb84"/>
<path d="M103.5 192L105 190.2L106.8 190.5L105.5 192.5L104.5 195L103.5 194.5Z" fill="#fdbb84"/>
<path d="M106.8 199.5L109 199L112.5 202L114.5 205L112 204.5L109 202Z" fill="#fdbb84"/>
<path d="M47.2 164.5L50 162.8L52.5 161.2L56.5 158.5L60.5 155.5L62.5 157L63.2 159.8L67 160.2L68 161.5L65.5 162.8L62.5 163L60.5 164.5L58 165.8L55.5 165L53.5 163.5L51.8 162.5Z" fill="#fc8d59"/>
<path d="M110 250L111.6 251.6L113 257L115 263.6L116.6 271L114.8 269L112.4 263L110.4 257L109 252.4Z" fill="#fdbb84"/>
<path d="M187 260L190 261L189.6 262.4L187.6 261.6Z" fill="#fdbb84"/>
<path d="M187 264.4L188 264.4L188.4 268L187.4 268Z" fill="#fdbb84"/>
<path d="M219 303L222 302.4L222 304.4L219.6 304.6Z" fill="#fdbb84"/>
<path d="M220 285L220.8 285L220.8 285.8L220 285.8Z" fill="#fdbb84"/>
<path d="M222 286L222.8 286L222.8 286.8L222 286.8Z" fill="#fdbb84"/>
<path d="M222.6 290.4L223.4 290.4L223.4 291.2L222.6 291.2Z" fill="#fdbb84"/>
<path d="M223 294L223.8 294L223.8 294.8L223 294.8Z" fill="#fdbb84"/>
<path d="M225.4 296.2L226.2 296.2L226.2 297L225.4 297Z" fill="#fdbb84"/>
<path d="M222 299L222.8 299L222.8 299.8L222 299.8Z" fill="#fdbb84"/>
<path d="M221 287.6L221.8 287.6L221.8 288.4L221 288.4Z" fill="#fdbb84"/>
<path d="M233.8 201.5L236.5 200.8L239 202L236.8 202.8Z" fill="#fdbb84"/>
<path d="M171.2 273.2L174.1 271.2L177.4 270.4L181.5 270.8L184.8 272.4L188.1 274.5L191.4 276.1L194.2 277.4L194.6 278.3L191.4 278.6L188.1 278.6L187.1 278.2L188.5 276.9L186.4 275.3L183.9 273.6L181.1 272.6L178.2 272.2L174.9 272.6L172.4 273.6Z" fill="#fdbb84"/>
<path d="M185.2 282.7L186.8 282.1L189.3 283L189.5 284.1L187.2 284.6L185.6 283.9Z" fill="#fdbb84"/>
<path d="M199.6 279L202.5 278.8L205.4 280.2L207.7 282.1L205.4 282.7L202.9 283.5L200.4 284.6L199.6 283.5L200 281.1Z" fill="#fdbb84"/>
<path d="M196.7 279L199.6 279L200 281.1L199.6 283.5L197.9 282.7L194.2 283L193.8 281.9L197.5 281.9L197.9 280.6Z" fill="#d7301f"/>
<path d="M210.1 282.5L212.4 282.1L213.8 282.7L213.6 283.8L211.1 283.9L210.1 283.3Z" fill="#fdbb84"/>
<path d="M152.2 291.3L154.7 287.8L155.8 285.3L156.8 284.9L157.2 283.5L160.7 283.4L160.4 287.1L160.1 289L160 289.2L160.7 289.9L159.6 291.6L158.6 293.8L157.5 294.1L156.5 294.1L154 293.1Z" fill="#fdbb84"/>
<path d="M160.7 283.4L162.5 282.8L162.1 285.6L161.1 288.8L160.1 289L160.4 287.1Z" fill="#fdd49e"/>
<path d="M157.5 294.1L158.6 293.8L160.4 294.5L162.1 295.2L161.8 296.2L159.6 295.9L158.2 295.2Z" fill="#fdbb84"/>
<path d="M159.6 291.6L160.7 289.9L163.2 289.3L166.4 289.2L170.6 289.2L172.7 291.3L170.6 292.4L168.5 292.7L166.4 294.1L164.6 295.2L163.2 296.6L162.1 295.2L160.4 294.5L158.6 293.8Z" fill="#fdd49e"/>
<path d="M163.2 296.6L164.6 295.2L166.4 294.1L168.5 292.7L170.6 292.4L172.7 291.3L172.4 294.1L171.6 296.9L171.3 299.8L170.9 302.2L168.8 302.2L166.7 301.9L165.3 300.1L163.9 298.4L161.8 296.2L162.1 295.2Z" fill="#fdd49e"/>
<path d="M166.7 301.9L168.8 302.2L170.9 302.2L172.4 304.4L173.1 306.1L172.7 307.9L172.4 309.3L170.9 308.6L169.9 306.8L167.8 305.4L166.4 303.6Z" fill="#fdd49e"/>
<path d="M172.7 307.9L173.1 306.1L175.2 307.2L176.9 307.5L178.7 306.5L180.5 305.4L182.6 306.1L184.4 307.5L185.4 309.3L184.7 311.1L183.6 311.4L182.9 309.6L181.9 307.9L180.1 307.5L178.4 308.9L178.7 310.7L177.3 311.4L175.9 310L173.8 308.9L172.4 309.3Z" fill="#fdd49e"/>
<path d="M198 299.6L197 302L196 305L197.6 307L199.2 305.6L200 303.6L203 301.6L209 302.4L215 304L220 303.6L223 303L222.4 305.6L225 309L229 311.6L233 315L237 315.6L242 316L245 320L248 323L247.6 327L252 331L260 335L268 338L275 341L280 344.4L282.4 349L282.4 354L280 359L276 365L274.4 370L274 376L273 380L273 380L272 385L269 389L262 393L257 397L255 401L255 406L253 410L250 414L247 417L245.6 420L242 421.6L238 421L236 417L236.6 409.6L239 406L242.4 400L240 401.6L234 401.6L233 397L228 393L221.6 387.6L217 388.4L211 390L207 384L205 378L205 372L206.4 366L205 359.6L200 358L195.6 354L194 349L197 345L201.6 343L203 337L202.4 329L205 327L209 326L207.6 320L208 314L205 311.6L199 310L196.4 306Z" fill="#fdbb84"/>
<path d="M360.4 236.7L357.5 238.1L353.3 238.5L350 237.6L348.3 241.4L345.5 244.9L342.7 248.5L341.3 252L338.4 254.8L335.6 257.4L334.9 258.4L342.7 258.8L344.1 257.7L344.1 254.8L349 252.7L354 249.9L357.5 247L360.4 245.6L359.7 241.4Z" fill="#fdbb84"/>
<path d="M334.9 258.4L342.7 258.8L342.7 262.6L337.7 263.1L337.3 268.3L334.2 269L333.5 273.3L326.4 274.4L325 274.7L325.7 272.5L327.8 269L329.9 264.8L332.8 260.5Z" fill="url(#hatch2)"/>
<path d="M360.4 236.7L366.8 236.1L373.8 235.7L380.2 235.7L379.5 241.4L381.6 244.2L384.5 247L384.9 250.9L384.5 256.3L385.2 262.6L387.3 266.9L389.4 269.4L382.3 274L376 278.2L372.7 280.6L368.9 278.9L363.9 274.7L356.8 269.7L349 265.2L344.1 257.7L344.1 254.8L349 252.7L354 249.9L357.5 247L360.4 245.6L359.7 241.4Z" fill="#fdd49e"/>
<path d="M380.2 235.7L383 235L386.6 235.7L385.9 239.3L388 241.4L387.3 244.9L388 247L386.6 249.2L384.9 250.9L384.5 247L381.6 244.2L379.5 241.4Z" fill="#fdbb84"/>
<path d="M384.9 250.9L386.6 249.2L388 247L392.3 246.1L398.6 248.5L403.6 249.9L406.4 248.5L408.6 246.1L413.5 245.6L417.8 247.8L418.8 249.2L419.2 273.3L419.2 277.5L417.8 277.5L417.8 279.6L399.3 269.7L396.5 271.1L389.4 269.4L387.3 266.9L385.2 262.6L384.5 256.3Z" fill="#fdbb84"/>
<path d="M417.8 248.5L424.2 249.2L431.3 249.9L436.2 249.2L439 248.5L440.5 253.4L439 256.3L437.6 253.4L436.2 253.4L438.3 258.4L441.9 264L444.7 269.7L445.4 273.3L419.2 273.3L418.8 249.2Z" fill="#fdbb84"/>
<path d="M419.2 273.3L445.4 273.3L447.1 277.5L449.4 282.5L450 284.9L447.1 288.8L446.1 293.1L444 297.3L443.3 301.6L440.5 304.4L439 301.6L437.6 299.5L435.5 303L431.3 305.1L426.3 305.8L422.8 304.4L420.6 305.1L418.5 305.1L415 301.6L413.5 297.3L414.3 291.7L417.8 289.5L417.8 277.5L419.2 277.5Z" fill="#fdbb84"/>
<path d="M326.4 274.4L333.5 273.3L334.2 269L337.3 268.3L337.7 263.1L342.7 262.6L342.7 258.8L344.1 257.7L349 265.2L350.5 290.3L336.3 291.4L334.9 293.1L332 291L328.5 288.8L325.7 287.7L324 288.8L325.7 285.3L326 281.8L325.4 277.5L325 274.7Z" fill="#fdbb84"/>
<path d="M349 265.2L356.8 269.7L363.9 274.7L368.9 278.9L372.7 280.6L372.1 286.7L370.3 289.5L365.3 291L365.2 291.1L360.9 291.8L358.5 293.5L355.3 295.6L352.8 297.8L351.1 300.6L350.4 303.1L348.9 303.8L347.2 303.4L345.4 303.8L344 304.1L343.6 301.6L342.6 299.2L340.5 298.8L336.9 299.2L336.6 297.4L336.6 296L335.6 294.5L334.9 293.1L336.3 291.4L350.5 290.3Z" fill="#d7301f"/>
<path d="M372.7 280.6L376 278.2L382.3 274L389.4 269.4L396.5 271.1L397.9 278.9L397.2 286L395.1 291.7L394.4 295.9L389.4 296.6L383.8 295.9L379.5 296.6L376 295.2L373.1 295.9L371.7 299L370.3 299.5L366.8 295.9L364.6 292.8L365.3 291L370.3 289.5L372.1 286.7Z" fill="#990000"/>
<path d="M396.5 271.1L399.3 269.7L417.8 279.6L417.8 289.5L414.2 291.7L413.5 297.3L414.9 301.6L412.1 304.4L408.6 306.6L405 308.7L400.8 310.8L397.6 311.5L397.2 307.3L398.6 303L395.8 301.6L395.1 296.6L394.4 295.9L395.1 291.7L397.2 286L397.9 278.9Z" fill="#990000"/>
<path d="M371.7 299L373.1 295.9L376 295.2L379.5 296.6L383.8 295.9L389.4 296.6L394.4 295.9L395.1 296.6L395.8 301.6L394.4 305L393 308.5L390.8 312.1L388 314.9L385.9 317.8L384.5 320.6L382.3 319.2L379.5 319.9L376.7 319.2L374.5 316.3L371.7 315.2L368.9 315.2L369.6 308.7L371.3 303Z" fill="#ef6548"/>
<path d="M395.8 301.6L398.6 303L397.2 307.3L397.6 311.5L397.6 311.4L398.6 313.5L399.3 319.2L401.5 322L396.5 323.4L393.7 326L389.4 326.3L389.1 324.8L384.9 324.8L385.2 323.4L384.5 320.6L385.9 317.8L388 314.9L390.8 312.1L393 308.5L394.4 305Z" fill="#ef6548"/>
<path d="M450 284.9L451.1 284.6L452.5 287.4L455.3 291L458.9 294.5L461.9 298.2L461 298.8L458.2 296.6L453.9 293.1L450.4 292.8L447.1 293.1L447.1 288.8Z" fill="#ef6548"/>
<path d="M446.1 293.1L447.1 293.1L450.4 292.8L453.9 293.1L458.2 296.6L461 298.8L459.6 301.6L463.1 303L466.7 305.8L472.3 310.1L469.5 314.3L466 317.8L458.9 320.3L455.3 320.9L451.1 320.6L447.5 318.5L444 317L443.3 314.2L440.5 310.7L439.8 308.5L439.8 308.7L440.5 304.4L443.3 301.6L444 297.3Z" fill="#fc8d59"/>
<path d="M462.7 301.6L466.7 300.9L472.3 300.2L478 299.5L480.1 299.5L480.1 305L478 310.7L474.5 317.8L470.2 323.4L465.3 328.4L461 332.6L458.6 334.8L458.2 329.8L458.2 324.1L458.9 320.3L466 317.8L469.5 313.8L472.3 310L466.7 307.1L463.1 303Z" fill="#d7301f"/>
<path d="M444 317L447.5 318.5L451.1 320.6L455.3 320.9L458.9 320.3L458.2 324.1L458.2 329.8L458.6 334.8L456.8 338.3L453.9 342.5L452.5 341.8L447.5 338.3L441.9 333.3L443.3 329.1L444 324.8L442.9 320.6Z" fill="#fdbb84"/>
<path d="M434.1 321.3L438.3 320.3L442.9 320.3L444 324.8L443.3 329.1L441.9 333.3L437.6 333.3L433.4 334L432.7 329.8L434.1 326.3Z" fill="#fc8d59"/>
<path d="M433.4 334L437.6 333.3L441.9 333.3L447.5 338.3L452.5 341.8L453.9 342.5L453.2 346.1L453.9 350.3L454.6 353.9L455.3 358.1L451.8 359.5L447.5 360.5L444 360.3L441.9 357.4L439 354.6L434.8 352.5L432 347.5L431.3 344L432.7 339L433.4 337.3Z" fill="#fdbb84"/>
<path d="M384.6 328.4L389.1 328L389.4 326.3L393.7 326L395.1 329.8L395.8 333.3L397.2 335.5L395.1 338.3L392.3 339L390.1 340.4L389.4 342.1L388 340.4L385.2 336.9L383 334L383.8 332.6Z" fill="#fc8d59"/>
<path d="M393.7 326L396.5 323.4L401.5 322L405 321.7L404.7 326.3L403.6 331.2L400.8 335.5L398.6 339L397.2 342.1L393.7 343L391.6 346.4L390.1 343.5L389.4 342.1L390.1 340.4L392.3 339L395.1 338.3L397.2 335.5L395.8 333.3L395.1 329.8Z" fill="#fc8d59"/>
<path d="M405 321.7L407.1 318.5L412.1 318L417.8 317L422 318.5L427.7 317L433.3 319.9L433.4 320.6L434.1 326.3L432.7 329.8L433.4 334L431.3 335L431 338.3L431.3 341.1L430.5 344L431.3 347.5L432 350.3L430.3 353.9L429.1 359.5L430.3 363.8L429.1 364.5L427 361.7L422 361L417.8 359.5L417.1 355.3L413.5 354.6L412.8 350.3L408.6 349.6L405 351.8L401.5 347.5L397.2 346.1L392.3 346.7L391.6 346.4L393.7 343L397.2 342.1L398.6 339L400.8 335.5L403.6 331.2L404.7 326.3Z" fill="#ef6548"/>
<path d="M392.3 346.7L397.2 346.1L401.5 347.5L405 351.8L408.6 349.6L412.8 350.3L413.5 354.6L417.1 355.3L417.8 359.5L416.3 363.1L412.8 364.5L413.5 370.2L414.2 375.1L410.7 377.3L405 376.1L396.5 375.6L390.1 375.1L389.4 375.1L390.1 370.2L392.3 364.5L393.7 359.5L393.4 354.6L392.3 350.3Z" fill="#fc8d59"/>
<path d="M412.8 364.5L416.4 363.1L417.8 359.5L422 361L427 361.7L429.1 364.5L430.3 363.8L432 358.8L434.8 356.7L439 358.1L439.8 359.5L439 364.5L437.6 369.5L433.4 370.2L430.5 373L425.6 375.8L422 377.3L417.8 376.6L414.3 375.1L413.5 370.2Z" fill="#fc8d59"/>
<path d="M439 354.6L441.9 357.4L442.9 364.5L444 369.5L443.3 373.7L441.5 371.6L440.5 367.3L439 364.5L439.8 359.5Z" fill="#fc8d59"/>
<path d="M444 360.3L447.5 360.5L451.8 359.5L455.3 358.1L456 364.5L455.6 370.2L452.2 373.5L448.6 377.1L445.1 380.6L442.3 384.2L443 387.7L443.7 392L440.8 395.5L437.3 397.6L436.6 399L434.5 397.6L433.5 392.7L432.3 388.4L434.5 386.3L436.6 382L437.7 377.1L435.9 373.5L434.8 373L433.4 370.2L437.6 369.5L441.2 371.6L443.3 373.7L444 369.5L442.9 364.5Z" fill="#fc8d59"/>
<path d="M418.9 376.8L423.8 376.4L427.4 373.5L431.6 372.1L435.9 373.5L437.7 377.1L436.6 382L434.5 386.3L432.3 388.4L430.9 389.1L427.4 387L424.5 384.2L421.7 381.3Z" fill="#fc8d59"/>
<path d="M411.1 378.5L415.3 377.8L418.9 376.8L421.7 381.3L424.5 384.2L427.4 387L430.9 389.1L428.1 391.3L424.5 394.1L421 396.9L417.5 397.6L413.9 398.3L411.1 400.5L409.4 400.5L408 387.7L410.4 378.8Z" fill="#fdbb84"/>
<path d="M389.1 373.5L394.1 375.7L404 375.7L412.5 376.8L418.9 376.4L415.3 377.8L411.1 378.5L410.4 378.8L408 387.7L407.5 400.5L407.1 404.7L404 406.6L401.2 405.1L399 403.3L396.9 399L395.5 393.4L393.4 387L390.5 379.9Z" fill="#fc8d59"/>
<path d="M401.2 405.1L404 406.6L407.1 404.7L407.5 400.5L409.4 400.5L411.1 400.5L413.9 398.3L417.5 397.6L421 396.9L424.5 394.1L428.1 391.3L430.9 389.1L432.3 388.4L433.5 392.7L434.5 397.6L436.6 399L435.9 401.9L433.8 404.7L430.9 409L426.7 413.2L422.4 416L417.5 418.2L411.8 419.3L407.1 421.3L404 420.3L402.9 416.8L403.7 413.2L401.9 408.3Z" fill="#fc8d59"/>
<path d="M475.6 375.7L473.4 382.8L471.3 389.1L469.2 394.8L466.3 397.6L463.5 396.9L461.4 393.4L460.7 389.1L462.1 384.2L464.2 379.9L464.2 375.7L466.3 372.8L468.1 371.6L472.3 366.6L475.9 362.4L477.7 365.9L478 370.9Z" fill="#fc8d59"/>
<path d="M324 288.8L325.7 287.7L328.5 288.8L332 291L334.9 293.1L335.6 294.5L336.3 297.3L336.6 296L336.6 297.4L334.8 297.8L330.6 297.9L326 298.1L325.3 298.3L324.1 297.1L323.2 293.5Z" fill="#fdbb84"/>
<path d="M325.3 298.3L330.6 298.3L330.9 299.5L329.9 300.6L328.8 301.6L327.1 300.6L326 299.5Z" fill="#ef6548"/>
<path d="M330.6 297.9L334.8 297.8L336.6 297.4L336.9 299.2L340.5 298.8L342.6 299.2L343.6 301.6L344 304.1L344.7 306.6L344.4 308.4L343.3 311.2L342.2 310.5L342.6 308.7L341.2 307.6L340.1 308.7L338.7 308.7L338 305.9L336.6 304.5L334.8 304.5L333.1 305.9L332 306.9L330.9 305.2L328.8 301.6L329.9 300.6L330.9 299.5L330.6 298.3Z" fill="#ef6548"/>
<path d="M333.1 305.9L334.8 304.5L336.6 304.5L338 305.9L338.5 307.6L338 309.8L336.9 311.5L335.9 312.6L334.1 310.5L332.8 308.4L332 306.9Z" fill="#d7301f"/>
<path d="M335.9 312.6L336.9 311.5L338 309.8L338.7 308.7L340.1 308.7L341.2 307.6L342.6 308.7L342.2 310.5L343.3 311.2L343.6 313.3L345.1 315.4L345.4 318.2L344.7 319.3L342.9 318.2L340.5 316.5L338 314.4Z" fill="#ef6548"/>
<path d="M344 304.1L345.4 303.8L347.2 303.4L348.9 303.8L351.1 304.5L352.8 305.2L354.6 305.5L355.6 305.9L355.3 308.4L355.6 311.2L355.2 314L355.6 316.5L356.4 317.2L353.9 317.2L350.4 317.9L347.5 318.6L345.4 318.2L345.1 315.4L343.6 313.3L343.3 311.2L344.4 308.4L344.7 306.6Z" fill="#ef6548"/>
<path d="M351.1 300.6L352.8 297.8L355.3 295.6L358.5 293.5L360.9 291.8L363.1 292.1L365.2 294.2L366.6 296.7L369.4 298.8L370.8 299.5L368.7 300.6L366.6 301.6L365.2 301.6L363.1 301.3L359.5 301.6L356.7 302.4L355.6 305.9L354.6 305.5L352.8 305.2L351.1 304.5L350.4 303.1Z" fill="#fc8d59"/>
<path d="M355.6 305.9L356.7 302.4L359.5 301.6L363.1 301.3L363.4 304.1L363.8 307.6L364.1 311.2L364.5 314.4L362.7 315.8L360.6 317.2L358.5 318.2L356.4 317.2L355.6 316.5L355.2 314L355.6 311.2L355.3 308.4Z" fill="#fc8d59"/>
<path d="M363.1 301.3L365.2 301.6L365.7 304.1L365.9 307.6L366.2 311.2L366.4 314L364.5 314.4L364.1 311.2L363.8 307.6L363.4 304.1Z" fill="#fc8d59"/>
<path d="M365.2 301.6L366.6 301.6L368.7 300.6L370.8 299.5L371.5 302L371.2 304.8L369.8 307.6L369.4 311.2L369.4 314L366.4 314L366.2 311.2L365.9 307.6L365.7 304.1Z" fill="#fc8d59"/>
<path d="M500.5 458L503 457L505 458.5L504 461L501 461Z" fill="url(#hatch2)"/>
<path d="M343.5 195L344.5 192L346.5 190L348.5 188.5L351 188.5L351.5 191L350.5 193.5L348.5 195.5L345.5 196.2Z" fill="#fdd49e"/>
<path d="M351.5 182.5L353.5 179.5L356.5 179.2L357.5 181L356 183L358.5 183.5L359 185.5L360.5 188L362.5 191L364.5 193L366 195.5L365 197.5L362 198.2L358.5 198.5L355 199.5L352 200L354 198.5L355.5 197.2L353.5 196.5L353 194.5L355 193.5L354.5 192L355.5 190.5L354 189L352.5 186.5L353.5 185L352 184Z" fill="#fdbb84"/>
<path d="M354 204.8L356.5 204L359 204.5L359.5 202.5L362.5 201.5L365 200L367 198.5L369.5 199.5L372 201.2L375 202.5L378 203.5L378.2 206.5L376.8 207.5L375.5 208.2L376.5 209.5L377.8 211.5L377.5 213.5L379 215.5L377.5 217L374 218L370.5 217.5L368.5 218.5L366 219L363.5 218.5L360.5 217.5L359.5 214.5L360 211L358.5 208.5L356 206.5L354 205.5Z" fill="#fdbb84"/>
<path d="M343.5 218.2L349.2 216.8L354.8 217.5L359.8 216.8L363.3 218.9L366.9 219.6L369 219.3L366.9 222.4L364 224.5L361.9 228.1L360.5 232.3L356.3 234.5L352.7 235.9L350.6 234.5L349.2 233L348.5 232.3L349.2 226.7L349.2 221L343.8 220.3Z" fill="#fdd49e"/>
<path d="M343.8 220.3L349.2 221L349.2 226.7L348.5 232.3L344.9 233L342.8 232.3L343.5 226.7Z" fill="#fdbb84"/>
<path d="M381 219.5L382.2 218.5L382.8 220.5L382.2 223L381.2 222.5Z" fill="#fdbb84"/>
<path d="M380.8 224L382.5 223.5L383.5 226.5L382.8 229L381 228.8L380.5 226Z" fill="#fdbb84"/>
<path d="M367 198.5L369.5 197.5L372.5 198L374.5 200L375 202.5L372 201.2L369.5 199.5Z" fill="#fdbb84"/>
<path d="M371 195L373.5 192.5L376 192L376 195L375.5 197.5L374.5 200L372.5 198L369.5 197.5Z" fill="#fdbb84"/>
<path d="M376 192L379 190L382.5 189.5L386 190L390.5 191L391.5 195L391 198L388 199.5L389 201.5L390 204L388 206L384 206.5L380.5 206.2L378 206.5L378 203.5L375 202.5L374.5 200L375.5 197.5L376 195Z" fill="#fdbb84"/>
<path d="M378.5 184L381 182L382.5 183L381.5 186L382.5 187.5L380.5 189L379 187.5L379 190L376 192L377.5 189Z" fill="#fdbb84"/>
<path d="M384.5 186L386.5 185.8L386.8 188L385 188.2Z" fill="#fdbb84"/>
<path d="M384 206.2L388 206L390 204L391.5 204L394 204.5L397.5 204L398 205.5L397 207.5L394 208.5L390 209.2L386.5 208.8L384 209L383.5 207.5Z" fill="#fdbb84"/>
<path d="M376.5 211L379 210.5L382 210L384 209L386.5 208.8L390 209.2L391.5 210L390 211.5L388.5 212.5L389 214.5L391.5 217.5L394.5 220.5L397.5 222.5L400.5 224.5L401.8 226.2L400 226L398.5 225L397.5 227L399 229.5L397.5 231L396.8 228.5L395.5 226L393 223.5L390 221L387 218L384.5 215.5L382 214.5L379.5 215L378 214L377 212.5Z" fill="#fdbb84"/>
<path d="M390 232L393 231.2L396.2 230.8L395.5 233L394 234.2L391.5 233.5Z" fill="#fdbb84"/>
<path d="M390.5 191L395 189.5L400 188.5L403.5 189.5L408.5 190L409.5 193L410.5 196L409.5 198L410 201L408 202L405 201.8L402 202.5L399 201.5L395.5 200L392.5 198.5L391 198L391.5 195Z" fill="#fdbb84"/>
<path d="M388 199.5L391 198L392.5 198.5L395.5 200L399 201.5L400 202.5L397.5 204L394 204.5L391.5 204L389.5 202.5Z" fill="#fdbb84"/>
<path d="M397.5 204L400 202.5L402 202.5L405 201.8L408 202L408.5 203.5L408.5 204.5L406 204.5L403 205L400 205.8L398 205.5Z" fill="#fdbb84"/>
<path d="M397 207.5L398 205.5L400 205.8L403 205L406 204.5L408.5 204.5L407.5 207L405.5 209.2L402 210L399 210L397.5 209.2Z" fill="#fc8d59"/>
<path d="M391.5 209.5L394 208.8L396.5 209L395.5 210.5L392.5 211Z" fill="#fdbb84"/>
<path d="M392.5 211L395.5 210.5L397.5 209.2L402 210L402.5 211.8L399 211.5L396.2 212.2L397.8 215L400 217.8L402 219.5L399.5 218.5L396.5 215.5L394.5 213.5L392.8 212.5Z" fill="#fdbb84"/>
<path d="M396.2 212.2L399 211.5L402.5 211.8L403.2 214.5L402 217.2L400 217.8L397.8 215Z" fill="#fdbb84"/>
<path d="M402.2 210.2L405.5 209.2L407.5 211L409.5 213.5L410.5 216.2L410 217.5L409.5 219.2L407.2 218.5L405.5 217.7L404.5 216L403.2 214.5L402.5 211.8Z" fill="#fdbb84"/>
<path d="M402 217.2L403.5 216L405 217.2L404 219.2L402.5 219Z" fill="#fdbb84"/>
<path d="M405.5 217.7L407.2 218.5L406.5 220.2L405 219.5Z" fill="#fdbb84"/>
<path d="M403.8 219.5L405.2 219.8L406.2 222L407.2 223.2L405.5 226.2L404.5 224.5L404 222Z" fill="#fdbb84"/>
<path d="M406.5 220.2L409.5 219.2L411 220.5L410 222.5L407.2 223.2L406.2 222Z" fill="#fdbb84"/>
<path d="M405.5 226.2L407.2 223.2L410 222.5L413 222L416.5 221.5L418 222.5L415.5 223.5L414 224.5L412.5 224L411 225L412.5 227.5L414 230L414.5 232.5L413 233L413.5 235L411.5 235.5L410 233L408.5 230.5L407 228Z" fill="#fdbb84"/>
<path d="M414 238L418 238.2L419 239L415 239.2Z" fill="#fdbb84"/>
<path d="M410.5 216.2L413 217.2L417 216.2L420 216L421.2 217.5L420.5 219.5L419 221L416.5 221.5L413 222L411 220.5L409.5 219.2L410 217.5Z" fill="#fc8d59"/>
<path d="M407.5 207L408.5 204.5L412 205L415 205.5L418 205L420 206.5L421.5 209L422.5 211L424.5 211.8L423 213L421.2 214L421 215.8L420 216L417 216.2L413 217.2L410.5 216.2L409.5 213.5L407.5 211L405.5 209.2Z" fill="#fdbb84"/>
<path d="M420 206.5L421.5 205.8L423.5 208L424.5 210.5L424.5 211.8L422.5 211L421.5 209Z" fill="#fc8d59"/>
<path d="M409.5 198L410.5 196L414 195.8L419 196.5L423.5 197L425.5 195L429 194.5L430.1 195L430.6 196.9L432.7 198.3L434.6 199.5L437.2 199.5L439.8 200.4L442.1 201.1L443.3 202.3L443.5 204.2L444 205.6L442.4 206.5L441.2 207.7L441.4 208.2L439.8 208.9L437.9 209.4L436 209.8L434.8 210.8L435.5 211.9L436.7 212.5L438.1 212.2L438.8 212.9L437.6 213.1L436.2 213.6L434.6 214.1L433.4 214.7L432.3 214.1L431.8 213.1L430.6 212.6L431.5 211.5L430.1 211L428.5 210.1L427.1 209.4L425.6 210.1L424.5 211.7L424.5 210.5L423.5 208L421.5 205.8L420 206.5L418 205L415 205.5L412 205L408.5 204.5L408.5 203.5L408 202L410 201Z" fill="#fc8d59"/>
<path d="M409.5 193L408.5 190L411 188.5L413 186L416.5 185L420 186.5L422 189L424 191L425.5 195L423.5 197L419 196.5L414 195.8L410.5 196Z" fill="#fc8d59"/>
<path d="M402 186.2L406.5 185L410 185.8L413 186L411 188.5L408.5 190L405 189.7L402.2 189.5Z" fill="#fc8d59"/>
<path d="M403.5 183L407 182L410 182.5L414 182L416 184L416.5 185L413 186L410 185.8L406.5 185L403.5 185Z" fill="#fc8d59"/>
<path d="M406.5 178.5L410 177.5L414.5 177.2L415.5 179.5L414.5 182L411 181.5L408 181Z" fill="#fdbb84"/>
<path d="M372 172L375 169L380 166.5L384 163L388 158L392 155L397 153L402 151.5L408 150.5L413 151.2L414.5 152.5L412 154L410.5 153.5L409 153L406 154.5L405 156L402.5 155.5L399 155L397 156L394 156.5L391.5 157.5L389.5 160.5L387.5 163.5L385.5 166L384 168L384.5 171L385.5 174L384.5 177L381.5 179L378 180.5L374.5 180L372.8 177Z" fill="#fdd49e"/>
<path d="M385.5 166L387.5 163.5L389.5 160.5L391.5 157.5L394 156.5L397 156L399 155L402.5 155.5L403.5 158.5L403 161.5L400 163.5L398 165.5L396.5 168L395 170.5L394.5 173.5L396.5 175.5L397.5 177L394.5 180L394 183L392.5 185.5L390 186.5L388 184.5L386.5 179.5L384.5 177L385.5 174L384.5 171L384 168Z" fill="#fdd49e"/>
<path d="M402.5 155.5L405 156L406 154.5L409 153L410.5 153.5L412 154L413 157L415 161.5L416.5 165L419.5 169.5L418 172L416 174L412 175L408 175.8L404.5 175L402.5 173L401.5 170.5L402.5 168L405 166.5L407 164.5L405.5 162.5L403.5 161.5L403.5 158.5Z" fill="#fdbb84"/>
<path d="M378 133.5L382 132.8L388 132.2L395 131.8L402 132.2L401.5 133.5L395 134.2L392 135L390.5 137.5L388.5 138.8L385 138L381.5 136L379 134.8Z" fill="#fdd49e"/>
<path d="M394 136.2L399 136.5L399 137.8L394.5 137.5Z" fill="#fdd49e"/>
<path d="M418.5 221.2L421.2 220L422 221.5L420 222.5L418.5 223Z" fill="#fdd49e"/>
<path d="M414.5 152.5L417 153.5L421 154L427 155.5L432 157.5L433.5 159.5L432 161L429 161.5L425 161L422 160.5L420.5 161L423 162.5L425 164.5L427 166L428 165L427.5 163.5L431 163L434 162L436.5 160.5L438.5 159.5L438 157.5L436.5 156.5L439 156L442 157.2L442.5 158.5L445 159L448 157.5L450 156.8L456 155.4L463 154.6L470 155.4L475 157L478 154L475 151L473 148L478 146.6L481 150L483.6 154L487 158L489 161L490 158L487 153L484 149L487 148.6L491 146L498 144.6L503 141.4L510 139.4L517 138L524 139.4L530 140L534 139.4L539 142L538 144.6L546 145L554 146L562 145L570 146.6L576 148.6L580 150L588 148L596 147L600 146.6L600 147L610 149.4L620 151L627 153L633 154.6L640 155L648 156L645 154L650 153L658 154L665 155.4L670 159L675 162.6L679 166L685.6 170.6L680 170L676 172L677 175L673 174L669 176L665 178L664 181L667 182L671.2 183L674.2 185.2L673.6 187.6L675.4 189.4L674.8 191.8L675.4 194.2L674.8 198.2L671.2 194.2L667.6 191.2L663 187L660 184.6L658.8 181.2L660 177L659 172L657 174L654 175L650 173L648 176L644 178L637 178.6L630 180L627 184L625 188L630 190L635 192L640 195L642.5 197.5L644.5 201.5L646 206L646.5 210L645.5 214L644 217.5L642 219L639.5 218.5L638 218.5L636.5 216.5L635 214.5L636 213L637.5 211L636.8 207L635.5 204.5L633 205.5L630 206.2L627 204L623 202L619.5 201.2L617 199L614 196.5L611 194L607 192.5L603 192.2L600 193L599 195L600.5 198L600 201L597.2 201.5L594 200.8L590.5 200.5L587 201.8L583 202.5L578 201L574 199.5L570 199.5L567 198L560 196L557 200L550 199L544 200L539 202L532 200L526 198L520 195L515 193L511 190L507 192L501 190L496 188L488 190L482 192L483 197L482 196L484.5 198L482 199L478 198.5L473 198.8L468 197.5L463 198L459.5 199.5L457.5 202L457 206L458.5 210L460.8 213.8L462 217.5L463.2 219.5L464.5 221.5L463.5 222.8L461 221.2L457 220L453 218.5L449.5 218L449.2 218.5L446.8 217.6L444.5 216.2L442.1 214.8L439.8 213.6L439.3 212.6L440.2 211.7L440.9 210.5L441.6 209.4L442.1 208.4L441.4 208.2L441.2 207.7L442.4 206.5L444 205.6L443.5 204.2L443.3 202.3L442.1 201.1L439.8 200.4L437.2 199.5L434.6 199.5L432.7 198.3L430.6 196.9L430.1 195L429 194.5L425.5 195L424 191L422 189L420 186.5L416.5 185L416 184L414.5 182L415.5 179.5L414.5 177.2L416.2 176.8L416.5 175.5L416 174L418 172L419.5 169.5L416.5 165L415 161.5L413 157L412 154Z" fill="#fc8d59"/>
<path d="M447 149L449 144L454 141L460 139.4L467 138.6L466 140.6L460 142L455 144L453 147L457 151L453 151L450 150Z" fill="#fc8d59"/>
<path d="M494 132L498 131L504 132.6L509 134L507 135.4L501 134.6L496 133.4Z" fill="#fc8d59"/>
<path d="M511 134L517 135L518 136.6L512 136Z" fill="#fc8d59"/>
<path d="M574 140.6L580 140L588 141L596 142L595 143.4L588 142.6L580 142.6L575 142Z" fill="#fc8d59"/>
<path d="M586 145L591 145L590 146.6L586.4 146.2Z" fill="#fc8d59"/>
<path d="M426.5 131.5L431 131.2L435.8 131.2L435.5 132.5L431.5 133L427.5 132.5Z" fill="#fc8d59"/>
<path d="M639.4 190L644.2 193L650 198.8L654.2 201.8L653 203.6L655.4 207.6L657 210L654.6 210.6L652.4 206.4L648.8 202.4L645.2 197.6L641.8 193.6Z" fill="#fc8d59"/>
<path d="M655 150L658 150.6L657.6 151.6L655.6 151.2Z" fill="#fc8d59"/>
<path d="M547.2 305.1L548.7 306.6L550.1 308.9L551.1 311.2L550.7 313.6L549 315L547.2 314.2L546.3 311.2L546.4 307.7Z" fill="#fdd49e"/>
<path d="M461 286L465.3 285.3L470.9 283.9L476.6 282.5L482.3 281L483.7 286L480.8 289.5L475.2 291.7L469.5 293.8L463.8 296.6L461.7 294.5L460.3 289.5Z" fill="#fdbb84"/>
<path d="M593 314L597 315L601 320L603 326L601 327L597 323L594 318Z" fill="#fdd49e"/>
<path d="M582.4 317L587 318L593 324L599 330L604 336L607 340L606.4 345L604 344L599 339L593 332L588 325L584 320Z" fill="#fdbb84"/>
<path d="M606 347L612 346.4L620 348.4L628 351.6L627 353.6L620 352.4L613 351L607 349Z" fill="#fdbb84"/>
<path d="M631.6 353L636 352.4L637 354L632.4 354.4Z" fill="#fdbb84"/>
<path d="M639 353L645 352.4L645.6 354L639.6 354.4Z" fill="#fdbb84"/>
<path d="M637 355.6L640 356L639.6 357.6L637 357Z" fill="#fdbb84"/>
<path d="M647 356L651 353.6L655.6 352.4L655 354L651 356L647.6 357.6Z" fill="#fdbb84"/>
<path d="M653.6 339L658 338.4L658.4 340L654 340.4Z" fill="#fdbb84"/>
<path d="M660 338.4L664 339L663.6 340.6L660 340Z" fill="#fdbb84"/>
<path d="M657 326L659 325.6L659.6 330L658.4 333L657.2 330Z" fill="#fdbb84"/>
<path d="M671.6 345L673 345.6L672.4 349L671.2 348Z" fill="#fdbb84"/>
<path d="M664 333L668 331.6L673 333L672 336L676 338L680 335.6L684 336L687.6 337L688 354.4L684 353.6L680 352.4L682 348L678 345L674 342L670 340L668 337L665 335Z" fill="#fdbb84"/>
<path d="M687.6 337L692 339L698 343L702 347L700 349L704 353L708 357L709 358.4L705 357L700 353L695 353.6L691 355L688 354.4Z" fill="#fdbb84"/>
<path d="M705 345L710 343.6L713.6 341L713 338L711 337L715 339L716 342L713 345L708 347L705 346.4Z" fill="#fdbb84"/>
<path d="M719 344.4L721 347L722.4 349L721 348.6L719.4 346Z" fill="#fdbb84"/>
<path d="M724 349L727 350.4L726.4 351.6L724 350Z" fill="#fdbb84"/>
<path d="M729 351L732 353L731.6 354L729 352.4Z" fill="#fdbb84"/>
<path d="M733 353L735 356L734.4 357L732.6 354.4Z" fill="#fdbb84"/>
<path d="M743.6 369L745 370L745.6 374L744.4 373.6Z" fill="#fdbb84"/>
<path d="M734 383.6L735.6 382.4L741 388L739.6 389.6Z" fill="url(#hatch2)"/>
<path d="M613.8 418.9L617.6 410.2L617.1 398.9L620.1 388.8L630.1 383.8L640.2 380.1L646.4 373.8L655.2 367.5L661.5 362.5L666.5 360.5L676.5 362.5L674 368.8L681.5 376.3L686.5 368.8L689.5 359.5L692.8 367.5L695.8 376.3L700.3 385.1L704.1 392.6L705.8 401.4L704.1 410.2L699.8 418.9L694 425.2L689 430.2L682.8 430.7L675.2 432.2L670.2 430.2L666.5 425.2L664 420.2L661.5 422.7L657.7 418.9L651.4 413.9L643.9 413.2L635.1 416.4L627.6 420.2L620.1 422.7L615.1 422.2Z" fill="#fdd49e"/>
<path d="M667.7 438.2L676.5 437.2L675.2 441.5L670.2 444.7L667.2 442.2Z" fill="#fdd49e"/>
<path d="M739.1 421.4L740.9 425.2L742.9 428.9L746.7 429.7L742.9 434L737.9 436.5L732.9 439L731.6 436.5L736.6 434L739.1 429.7L738.4 425.2Z" fill="#fdd49e"/>
<path d="M705.3 449.7L712.8 445.2L721.6 440.7L729.9 437.2L730.4 439L726.6 442.7L720.4 446.5L712.8 450.3L707.8 452.3Z" fill="#fdd49e"/>
<path d="M766.7 376.3L769.2 375.1L770 377.1L767.5 378.1Z" fill="#fdbb84"/>
<path d="M771 373.8L773.5 373.1L773.5 374.6L771.5 375.1Z" fill="#fdbb84"/>
<path d="M2 272L3.3 272L3.3 273.3L2 273.3Z" fill="#fdbb84"/>
<path d="M5 273.3L6.3 273.3L6.3 274.5L5 274.5Z" fill="#fdbb84"/>
<path d="M7.5 275L8.8 275L8.8 276.5L7.5 276.5Z" fill="#fdbb84"/>
<path d="M9 278L11.5 278.5L12 281.3L10 281.6L8.8 280.1Z" fill="#fdbb84"/>
<path d="M614.4 327.6L617 325.6L621 327L625 325.6L629 323L633 320L636 322L637 327L635 332L632.4 336L630 340.4L625.6 339.6L621 338L617 336L615 332Z" fill="#fdbb84"/>
<path d="M617 325.6L621 322L626 319L630 315L632.4 312.4L637.6 316L636.4 319L633 320L629 323L625 325.6L621 327Z" fill="#fdd49e"/>
<path d="M639 330L644 328L651 326.4L650.4 329L645 330.4L642.4 333L644.4 336L647 339L646 344L644.4 341L643 338L642 342L641 345.6L638.4 344L639 339L637.6 335Z" fill="#fdbb84"/>
<path d="M637 284L640 282L642 286L641 290L643 293L646 295.6L649 298L651 301L649 302.4L646 300L642.4 298L639.6 297L638 293L637 289Z" fill="#fdd49e"/>
<path d="M643 300L647 301L650.4 303.6L649 306L645 304.4Z" fill="#fdd49e"/>
<path d="M644 310L648 307L653 306L654.4 311L653 315.6L650 314L648 312L644.4 312.4Z" fill="#fdd49e"/>
<path d="M632.4 308L637 301.6L638 302.4L633.6 309Z" fill="#fdd49e"/>
<path d="M478.7 213.4L483.7 212L487.9 214.8L493.6 217L500.7 218.4L506.3 222.6L509.2 225.5L514.1 222.6L517.7 221.2L517 223.3L512.7 225.5L511.3 228.3L512.7 232.5L507.8 233.3L500.7 230.4L495 226.2L490.8 223.3L486.5 220.5L483.7 218.4L479.4 219.1L479.1 216.3Z" fill="#fdbb84"/>
<path d="M475.9 221.2L478.7 219.1L479.4 219.1L483.7 218.4L486.5 220.5L490.8 223.3L495 226.2L500.7 230.4L507.8 233.3L506.3 235.4L500.7 236.1L497.1 238.2L495 236.8L489.3 233.3L483.7 231.1L478.7 232.1L475.9 228.3L475.2 225.5L477.3 223.3Z" fill="#fdbb84"/>
<path d="M497.1 238.2L500.7 236.1L506.3 235.4L507.8 233.3L512.7 232.5L517 231.8L519.4 233L517.7 237.5L518.4 241.8L515.6 246L512 249.5L507.8 252.4L502.1 253.8L499.3 253.1L497.1 251.7L495.7 246.7L496.4 241.8Z" fill="#fdbb84"/>
<path d="M501.4 265.1L502.1 263L504.2 260.2L500.7 255.9L497.1 251.7L499.3 253.1L502.1 253.8L507.8 252.4L512 249.5L515.6 246L518.4 241.8L517.7 237.5L519.4 233L528 235L532 239L529 240L525 241L528 246L526 251L523 255L520 258L521 262L519 267L515 265L511 264L505 264.4L501 265Z" fill="#fdbb84"/>
<path d="M449.5 218L453 218.5L457 220L461 221.2L460.5 222.5L458 222.8L455 222.2L452 221.2L450 219.8Z" fill="#fdbb84"/>
<path d="M458.2 225.5L461 224.5L463.6 226.9L461.7 228.3L458.9 229Z" fill="#fdbb84"/>
<path d="M460.5 222.5L461 221.2L463.5 222.8L465.5 222L468.8 224.8L468.4 227.9L466.7 229L464.5 226.9L463.6 226.9L461 224.5Z" fill="#fdbb84"/>
<path d="M419.9 226.9L422 223.3L427 222.6L432.7 221.2L438.3 221.2L445.4 222.6L450.4 221.9L455.3 223.3L458.2 225.5L458.9 229L460.3 232.1L457.5 233.3L452.5 233.5L446.8 234.4L441.5 235.4L440.5 234L436.9 234.4L432.7 235.4L428.4 236.1L424.2 234.7L420.6 231.8L419.2 229Z" fill="#fdd49e"/>
<path d="M433.4 238.5L437.6 237.9L437.2 240.1L434.1 240.5Z" fill="#fdbb84"/>
<path d="M441.5 235.4L446.8 234.4L452.5 233.5L453.2 236.1L451.8 239.6L448.3 242.5L444.7 244.6L442.3 243.9L442.3 242.5L440.5 243.2L441.2 237.5Z" fill="#fdd49e"/>
<path d="M452.5 233.5L457.5 233.3L460.3 232.1L461.7 236.1L463.1 240.3L462.4 243.2L465.3 246.7L468.1 251L468.8 252.8L466.7 253.8L462.4 253.1L456.8 249.5L451.8 246L449 243.9L448.3 242.5L451.8 239.6L453.2 236.1Z" fill="#fdbb84"/>
<path d="M442.3 243.9L444.7 244.6L448.3 242.5L449 243.9L446.6 246.7L447.5 248.8L444.7 251L442.9 253.8L441.2 254.2L441.7 249.5L441.5 246Z" fill="#fdd49e"/>
<path d="M487.2 270.4L488.6 266.9L491.5 266.9L495 269L497.8 272.1L495 277.5L492.2 282.5L487.9 285.3L483.7 286L482.3 281L486.5 278.9L487.9 276.1Z" fill="#fef0d9"/>
<path d="M479.4 268.3L482.3 267.6L486.5 265.5L488.6 262.6L489.3 264.8L488.6 266.9L487.2 270.4Z" fill="#fef0d9"/>
<path d="M628.8 225.9L631.8 222.9L635.3 220L637.6 218.2L637.3 221.2L635.3 224.1L636.5 227.6L637.6 230.4L634.7 231.8L632.4 231.2L630.6 228.8Z" fill="#fdbb84"/>
<path d="M634.7 231.8L637.6 230.4L640.8 232.9L643.5 236.5L643.5 238.8L640.8 240.6L638.8 240L637.3 236.5L635.6 234.1Z" fill="#fdd49e"/>
<path d="M655.9 212.4L658.2 214.1L661.8 215.9L664.7 215.1L666.7 217.4L664.7 218.8L663.5 220.6L660.6 221.2L659.4 222.4L657.1 220.6L656.5 217.6L657.1 215.3Z" fill="#fdbb84"/>
<path d="M659.4 223.5L662.4 222.9L664.7 226.5L666.5 230.6L667.6 234.7L667.6 238.2L665.3 240L661.8 241.2L658.8 242.4L656.5 243.5L654.1 244.7L652.4 248.2L650.6 250L647.6 245.9L646.7 244.1L648.8 241.8L651.2 238.8L654.1 237.6L657.1 237.6L657.6 234.1L660 232.4L661.2 228.8L660 225.9Z" fill="#fdbb84"/>
<path d="M525 241L529 240L532 239L534.2 240L535.6 243.5L536 246.7L537.8 248.8L541.3 251.3L540.6 253.8L541.3 255.2L544.1 256.9L548.4 258.5L552.6 260.5L556.1 261.2L559.3 261.9L560.4 260.6L561.4 260.5L562.1 260.5L563.9 260.6L566.7 260.8L568.7 260.1L568.5 258.7L570.2 256.6L572.4 254.5L575.2 254.1L576.9 254.5L578 255.9L578.7 257.6L580.5 256.9L579.4 259.1L576.9 260.5L576.2 263.3L575.5 266.5L573.8 268.2L572.7 270L573.1 272.8L572.4 275.3L571.6 275.3L570.6 273.9L569.2 272.1L568.1 271.4L566.7 272.5L564.6 272.8L563.2 272.1L561.1 274.6L559.6 276.7L557.5 279.5L554.7 282L550 286L547 291L546.4 298L545.6 304L543 309L541 308L538 302L535 295L532 288L529 281L526 276L522 275L519 271L519 267L521 262L520 258L523 255L526 251L528 246Z" fill="#fdbb84"/>
<path d="M576.5 260L579 258L580.8 256.8L582.5 258.5L584 261L583.5 264L584.5 267L586.5 269.5L588.5 271.5L590 274L591.2 274.5L589.5 276.5L587 278L585 279.5L584.5 282L585.5 285L586.5 288.5L587.5 292L589 296L590.2 300L589.5 302L588.5 298L587.2 294L586 290L584.8 287L583 288L580.5 289.5L578.2 289L578 286L577 283L575 280L573.5 277L572.8 274.5L573.5 271.5L573 269.5L574.5 266.5L575.5 263.5Z" fill="#fc8d59"/>
<path d="M590 274L591.2 274.5L593 272.5L595 274L597 275.8L599.5 277.5L600.5 280L602 282L604 284.5L606 287.5L607.5 290L608 292.5L606.5 293.5L604.5 293L604 290L602.5 287.5L600.5 285L599 283.5L596.5 283.5L594.5 284.5L593 282.5L592.5 280L591 278.5L589.5 276.5Z" fill="#fc8d59"/>
<path d="M585 279.5L587 278L589.5 276.5L591 278.5L592.5 280L593 282.5L594.5 284.5L596.5 283.5L599 283.5L600.5 285L602.5 287.5L604 290L604.5 293L602 293.5L599.5 294L598 296L597.5 298L595 297L593.5 296L592.5 298L591.5 297L590.5 299L591 302L592 304.5L593.5 307L594 310L597 315L595 316L591 310L590 307L590.2 300L589 296L587.5 292L586.5 288.5L585.5 285L584.5 282Z" fill="#fdbb84"/>
<path d="M598 296L599.5 294L602 293.5L604.5 293L606.5 293.5L608.5 294L609.5 296.5L609 299L606.5 300.5L606 302.5L603 303L600.5 301.5L598.5 299.5L597.5 298Z" fill="#fdbb84"/>
<path d="M593 272.5L595 271L598 270.5L600.5 269.5L602.5 271.5L604.5 273.5L606 275L604 277L602 280L603 282.5L605.5 285L608 288L610.5 290.5L612.5 294L613.5 298L613 301.5L610.5 304L607 306L604.5 308L603.5 306L606 302.5L606.5 300.5L609 299L609.5 296.5L608.5 294L608 292.5L607.5 290L606 287.5L604 284.5L602 282L600.5 280L599.5 277.5L597 275.8L595 274Z" fill="#fdd49e"/>
<path d="M609.5 280L611.5 278.8L614 279L614.5 281L612.5 283L610.5 282.5Z" fill="#fdd49e"/>
<path d="M633.2 268.5L634.5 266L636 265L636.8 267.5L636.2 271L635.2 273.2L634 271.5Z" fill="#fdd49e"/>
<path d="M511.2 220.2L512.6 218.8L515.5 219.1L517.9 217.6L519.4 218.4L524.6 218.3L528.2 218.8L531.6 219.5L531 220.9L528.2 222.3L526.1 223.5L524.6 225.1L522.2 225.1L520.4 226.9L519.7 227.6L517.6 227.9L514.8 227.6L512.3 227.2L511.2 226.9L510.2 225.8L510.9 225.5L512.3 224.8L513.7 225.5L516.2 225.1L517.6 224.1L516.2 223.2L514.1 223L512.3 222.6L511.6 220.9L510.2 221.9Z" fill="#fdd49e"/>
<path d="M510.2 221.9L511.6 220.9L512.3 222.6L514.1 223L516.2 223.2L517.6 224.1L516.2 225.1L513.7 225.5L512.3 224.8L510.9 225.5L510.2 225.8L508.8 226.2L508.1 224.4L509.1 223.7Z" fill="#fdbb84"/>
<path d="M508.8 226.2L510.2 225.8L511.2 226.9L512.3 227.2L514.8 227.6L517.6 227.9L519.7 227.6L520.8 229.4L522.9 231.5L524.3 232.9L523.2 233.2L521.1 232.9L519.4 234.3L518.3 235L516.9 233.2L515.8 231.1L514.4 230.4L513.7 232.2L511.6 232.9L509.8 233.9L509.1 231.8L509.5 229.4L508.1 228.6L507.4 227.6Z" fill="#fdd49e"/>
<path d="M396.9 312.5L400.5 310.4L406.8 306.8L412.5 302.6L415.6 302L419 305.4L418.9 308.3L425.3 316.8L419.6 318.2L415.3 318.9L411.1 319.6L406.8 318.2L402.6 321.7L398.3 322.4L396.9 318.2Z" fill="#990000"/>
<path d="M418.9 308.3L421 304.7L426 305.4L430.9 304.7L436.6 301.9L437.7 299L439.4 300.5L439.4 306.8L440.4 310.7L443.3 314.2L444 317L442.8 320.6L438.3 320.6L434 321.3L432.3 319.6L428.1 318.2L425.3 316.8Z" fill="#990000"/>
<path d="M197.5 302.9L199.2 302.3L199.6 306.1L197.9 306.8Z" fill="#fff"/>
<path d="M225 309L229 311.6L230.4 316L229 320L231 325L227 327L225 323L223.6 318.4L222.4 314Z" fill="#fc8d59"/>
<path d="M237 315.6L242 316L244.4 320L241 324.4L236 324L237.6 320Z" fill="url(#hatch2)"/>
<path d="M458.9 298.8L461.9 298.2L462.7 301.3L460.3 301.9L458.9 300.9Z" fill="#fdbb84"/>
<path d="M431.3 335L433.4 334L433.4 337.3L431.5 337.9Z" fill="#fc8d59"/>
<path d="M431 338.3L433 337.9L432.7 341.6L431.3 341.1Z" fill="#ef6548"/>
<path d="M384.9 324.8L389.1 324.8L389.1 328L384.6 328.4Z" fill="#fc8d59"/>
<path d="M422.7 407.5L426 405.4L428.1 407.5L425.3 410.4L423.6 410Z" fill="#d7301f"/>
<path d="M431.6 398.3L433.8 397.6L435.2 399.8L433.8 402.3L432.1 401.5Z" fill="#ef6548"/>
<path d="M462 360.5L462.8 360.5L462.8 361.4L462 361.4Z" fill="#fdbb84"/>
<path d="M463.7 362L464.5 362L464.5 362.8L463.7 362.8Z" fill="#fdbb84"/>
<path d="M490.1 342.5L490.9 342.5L490.9 343.4L490.1 343.4Z" fill="#fdbb84"/>
<path d="M492.9 383.2L493.7 383.2L493.7 384.1L492.9 384.1Z" fill="#fdbb84"/>
<path d="M377.7 329.8L378.5 329.8L378.5 330.6L377.7 330.6Z" fill="#fdbb84"/>
<path d="M324.6 295.1L331.3 295.2L331.3 295.9L324.6 296.1Z" fill="#fc8d59"/>
<path d="M348.5 188.5L350 187.8L351.5 189L351 190.5L349 190Z" fill="#fdbb84"/>
<path d="M375.5 208.5L377 207.5L380.5 207L383.5 207.5L384 209L382 210L379 210.5L376.5 210.5L377.5 209Z" fill="#fdd49e"/>
<path d="M406.2 219.4L407.7 219L408.2 220.1L406.7 220.6Z" fill="#fff"/>
<path d="M402.2 188.5L405 188L405 189.7L402.2 189.5Z" fill="#fc8d59"/>
<path d="M440.5 243.2L442.3 242.5L442.3 243.9L440.9 246.3L440 246.3Z" fill="#fdd49e"/>
<path d="M440 246.3L440.9 246.3L441.5 246L441.7 249.5L440.9 253.7L439.2 248.8Z" fill="#fdd49e"/>
<path d="M466.7 253.8L468.8 252.8L470.6 254.5L469.2 256.2L467.4 255.6Z" fill="#fef0d9"/>
<path d="M476.6 263.3L478 262.3L478.9 265.5L477.4 266.5Z" fill="#fdd49e"/>
<path d="M461 213.4L464.5 209.9L470.2 208.9L472.3 210.3L469.5 212.7L467.4 214.8L468.8 219.1L472.3 221.9L475.9 221.2L477.3 223.3L475.2 225.5L475.9 228.3L478.7 232.1L476.6 234.4L472.3 234L469.5 231.1L468.4 227.6L468.8 224.8L466 221.2L463.1 217.7Z" fill="#fff"/>
<path d="M541.3 251.6L543.1 251.2L546.2 252.4L550.5 255.2L554.7 257.3L558.2 258L560 257.6L560.4 260.5L559.3 261.9L556.1 261.2L552.6 260.5L548.4 258.5L544.1 256.9L541.3 255.2L540.6 253.8Z" fill="#fdbb84"/>
<path d="M561.8 257.6L563.5 256.9L566 258L568.5 258.7L568.7 260.1L566.7 260.8L563.9 260.6L562.1 260.5Z" fill="#fdbb84"/>
<path d="M561.1 263.3L562.8 262.6L563.9 262.9L565.3 264.4L567.4 265.1L569.5 264.7L570.2 265.8L568.1 266.8L568.5 268.9L569.5 269.6L570.6 271.1L571.3 273.2L570.6 273.9L569.2 271.8L568.1 271.4L566.7 272.5L564.6 272.8L563.2 272.1L562.8 269.6L561.8 266.8L560.7 264.7Z" fill="#fdbb84"/>
<path d="M560 257.6L561.1 258L561.8 257.6L562.1 260.5L561.4 260.5L560.4 260.6Z" fill="#fdbb84"/>
<path d="M440.3 246.9L441.3 246.6L441.5 249.7L440.5 250Z" fill="#ef6548"/>
<path d="M127.4 153.4L104.2 174.8L106 177.2L110 177.6L113 177L114 181L114.5 186L112 188.5L111.2 192" fill="none" stroke-width="0.5"/>
<path d="M114.4 203.2L171 203.2" fill="none" stroke-width="0.5"/>
<path d="M171 203.2L172 202.2L172.5 203.5L176 204.5L181 205.5L184 205.2L187 207L190 209.5L192.2 212.5L192.5 215L191 218L189 220.5L187.8 221.8L189.5 222.2L193 220.5L196 219L198 217.5L202 217L205 215.5L208 213.5L212 213.2L215.5 213L218 211L219 209L221 208L223 207.5L224 209.5L223.5 212L224.5 213.8" fill="none" stroke-width="0.5"/>
<path d="M110 245.6L116 248L122 248.6L129 248L133 252L136 255.6L140 254L143 260L145.6 263" fill="none" stroke-width="0.5"/>
<path d="M209 326L212.4 328L215 323L220 320L223.6 318.4" fill="none" stroke-width="0.5"/>
<path d="M230.4 316L229 320L231 325L236 324L237.6 320L237 315.6" fill="none" stroke-width="0.5"/>
<path d="M227 327L231 325" fill="none" stroke-width="0.5"/>
<path d="M236 324L241 324.4" fill="none" stroke-width="0.5"/>
<path d="M205 359.6L212.4 357L214 362L220 365.6L225 369L226 373L231 376L232 382L225 382L221 388" fill="none" stroke-width="0.5"/>
<path d="M232 382L233 388L239 390L241 394L240 399" fill="none" stroke-width="0.5"/>
<path d="M236.6 409.6L241 412L245 415L247 417" fill="none" stroke-width="0.5"/>
<path d="M181.6 327.6L185 328L189.6 331.4L187 335.6L182 340L179 343L177 342.4" fill="none" stroke-width="0.5"/>
<path d="M189.6 331.4L194 337L200 338L201.6 343" fill="none" stroke-width="0.5"/>
<path d="M185 308L184 312" fill="none" stroke-width="0.5"/>
<path d="M211 390L210 396L209.6 404L211 412L210 420L211 428L212 436L213.6 444L215.6 452L217 459L220 464L225 466.4L227 466.4" fill="none" stroke-width="0.5"/>
<path d="M225 467L225 471.6" fill="none" stroke-width="0.5"/>
<path d="M203 378L204.4 378.4" fill="none" stroke-width="0.5"/>
<!--/MAP-->
</g>
<g id="legend">
<rect x="186.5" y="537.5" width="47" height="11" fill="url(#hatch)" stroke="#ccc" stroke-width="1"/><line x1="210" y1="534" x2="210" y2="537.5" stroke="#ccc" stroke-width="1"/>
<g stroke="#ccc" stroke-width="1">
<line x1="253.5" y1="520" x2="253.5" y2="548"/><line x1="370.9" y1="520" x2="370.9" y2="548"/><line x1="488.3" y1="520" x2="488.3" y2="548"/><line x1="605.7" y1="520" x2="605.7" y2="548"/>
<line x1="312.2" y1="534" x2="312.2" y2="548"/><line x1="429.6" y1="534" x2="429.6" y2="548"/><line x1="547" y1="534" x2="547" y2="548"/>
</g>
<rect x="253.5" y="537.5" width="58.7" height="11" fill="#fef0d9"/>
<rect x="312.2" y="537.5" width="58.7" height="11" fill="#fdd49e"/>
<rect x="370.9" y="537.5" width="58.7" height="11" fill="#fdbb84"/>
<rect x="429.6" y="537.5" width="58.7" height="11" fill="#fc8d59"/>
<rect x="488.3" y="537.5" width="58.7" height="11" fill="#ef6548"/>
<rect x="547" y="537.5" width="58.7" height="11" fill="#d7301f"/>
<path d="M605.7 537.5H658L664 543L658 548.5H605.7Z" fill="#990000"/>
<path d="M253.5 537.5H658L664 543L658 548.5H253.5Z" fill="none" stroke="#ccc" stroke-width="1"/>
<g stroke="#8f8f8f" stroke-width="0.5" opacity="0.6"><line x1="312.2" y1="537.5" x2="312.2" y2="548.5"/><line x1="370.9" y1="537.5" x2="370.9" y2="548.5"/><line x1="429.6" y1="537.5" x2="429.6" y2="548.5"/><line x1="488.3" y1="537.5" x2="488.3" y2="548.5"/><line x1="547" y1="537.5" x2="547" y2="548.5"/><line x1="605.7" y1="537.5" x2="605.7" y2="548.5"/></g>
<g font-family="Liberation Sans, sans-serif" font-size="13" letter-spacing="0.5" fill="#5b5b5b" text-anchor="middle" transform="translate(1.4,0)">
<text x="209" y="529.8" letter-spacing="0.35">No data</text>
<text x="253.5" y="515.5">10,000</text><text x="370.9" y="515.5">30,000</text><text x="488.3" y="515.5">50,000</text><text x="605.7" y="515.5">70,000</text>
<text x="312.2" y="529.5">20,000</text><text x="429.6" y="529.5">40,000</text><text x="547" y="529.5">60,000</text>
</g>
</g>
</svg>
<div class="t ft" style="left:16px;letter-spacing:-0.19px"><b>Data source:</b> IHME, Global Burden of Disease (2025)</div>
<div class="t ft" style="right:16.5px;letter-spacing:0.04px">OurWorldinData.org/burden-of-disease | CC BY</div>
</body></html>
